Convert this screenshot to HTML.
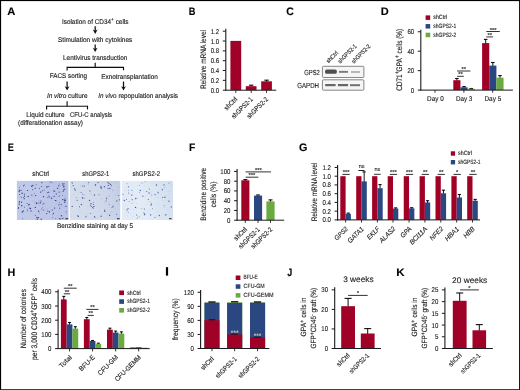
<!DOCTYPE html>
<html><head><meta charset="utf-8"><title>figure</title>
<style>
html,body{margin:0;padding:0;background:#fff;}
body{width:520px;height:390px;overflow:hidden;font-family:"Liberation Sans",sans-serif;}
svg{display:block;font-family:"Liberation Sans",sans-serif;opacity:0.999;will-change:transform;text-rendering:geometricPrecision;}
text{stroke:#1a1a1a;stroke-width:0.12px;}
</style></head><body>
<svg width="520" height="390" viewBox="0 0 520 390">
<rect x="0" y="0" width="520" height="390" fill="#ffffff"/>
<defs><filter id="soft" filterUnits="userSpaceOnUse" x="0" y="0" width="520" height="390"><feGaussianBlur stdDeviation="0.3"/></filter></defs>
<g filter="url(#soft)">
<text x="7.30" y="15.10" font-size="10.9" fill="#000" font-weight="bold" font-style="normal" text-anchor="start" textLength="8.10" lengthAdjust="spacingAndGlyphs" stroke="#000" stroke-width="0.45">A</text>
<text x="188.70" y="15.10" font-size="10.9" fill="#000" font-weight="bold" font-style="normal" text-anchor="start" textLength="6.70" lengthAdjust="spacingAndGlyphs" stroke="#000" stroke-width="0.45">B</text>
<text x="286.20" y="15.20" font-size="10.9" fill="#000" font-weight="bold" font-style="normal" text-anchor="start" textLength="7.60" lengthAdjust="spacingAndGlyphs" stroke="#000" stroke-width="0.45">C</text>
<text x="380.80" y="15.10" font-size="10.9" fill="#000" font-weight="bold" font-style="normal" text-anchor="start" textLength="8.00" lengthAdjust="spacingAndGlyphs" stroke="#000" stroke-width="0.45">D</text>
<text x="7.70" y="150.90" font-size="10.9" fill="#000" font-weight="bold" font-style="normal" text-anchor="start" textLength="6.10" lengthAdjust="spacingAndGlyphs" stroke="#000" stroke-width="0.45">E</text>
<text x="188.90" y="151.10" font-size="10.9" fill="#000" font-weight="bold" font-style="normal" text-anchor="start" textLength="6.30" lengthAdjust="spacingAndGlyphs" stroke="#000" stroke-width="0.45">F</text>
<text x="298.90" y="151.10" font-size="10.9" fill="#000" font-weight="bold" font-style="normal" text-anchor="start" textLength="8.40" lengthAdjust="spacingAndGlyphs" stroke="#000" stroke-width="0.45">G</text>
<text x="7.40" y="275.50" font-size="10.9" fill="#000" font-weight="bold" font-style="normal" text-anchor="start" textLength="7.80" lengthAdjust="spacingAndGlyphs" stroke="#000" stroke-width="0.45">H</text>
<rect x="165.90" y="267.20" width="2.20" height="8.40" fill="#000"/>
<text x="287.30" y="275.70" font-size="10.9" fill="#000" font-weight="bold" font-style="normal" text-anchor="start" textLength="5.00" lengthAdjust="spacingAndGlyphs" stroke="#000" stroke-width="0.45">J</text>
<text x="396.20" y="275.80" font-size="10.9" fill="#000" font-weight="bold" font-style="normal" text-anchor="start" textLength="8.40" lengthAdjust="spacingAndGlyphs" stroke="#000" stroke-width="0.45">K</text>
<text x="61.90" y="23.60" font-size="6.8" fill="#1a1a1a" font-weight="normal" font-style="normal" text-anchor="start" textLength="66.60" lengthAdjust="spacingAndGlyphs">Isolation of CD34<tspan dy="-2.6" font-size="5">+</tspan><tspan dy="2.6"> cells</tspan></text>
<line x1="95.20" y1="26.30" x2="95.20" y2="31.50" stroke="#111" stroke-width="1.25" stroke-linecap="butt"/>
<path d="M92.80,29.60 L95.20,33.90 L97.60,29.60 L95.20,30.70 Z" fill="#111"/>
<text x="58.00" y="41.70" font-size="6.8" fill="#1a1a1a" font-weight="normal" font-style="normal" text-anchor="start" textLength="74.30" lengthAdjust="spacingAndGlyphs">Stimulation with cytokines</text>
<line x1="95.20" y1="44.60" x2="95.20" y2="49.70" stroke="#111" stroke-width="1.25" stroke-linecap="butt"/>
<path d="M92.80,47.80 L95.20,52.10 L97.60,47.80 L95.20,48.90 Z" fill="#111"/>
<text x="63.00" y="59.50" font-size="6.8" fill="#1a1a1a" font-weight="normal" font-style="normal" text-anchor="start" textLength="64.30" lengthAdjust="spacingAndGlyphs">Lentivirus transduction</text>
<line x1="95.20" y1="62.70" x2="95.20" y2="67.30" stroke="#111" stroke-width="1.15" stroke-linecap="butt"/>
<line x1="67.10" y1="67.30" x2="123.50" y2="67.30" stroke="#111" stroke-width="1.15" stroke-linecap="butt"/>
<line x1="67.10" y1="66.85" x2="67.10" y2="70.40" stroke="#111" stroke-width="1.15" stroke-linecap="butt"/>
<line x1="123.50" y1="66.85" x2="123.50" y2="70.20" stroke="#111" stroke-width="1.15" stroke-linecap="butt"/>
<text x="49.80" y="78.20" font-size="6.8" fill="#1a1a1a" font-weight="normal" font-style="normal" text-anchor="start" textLength="37.10" lengthAdjust="spacingAndGlyphs">FACS sorting</text>
<text x="101.20" y="78.70" font-size="6.8" fill="#1a1a1a" font-weight="normal" font-style="normal" text-anchor="start" textLength="56.70" lengthAdjust="spacingAndGlyphs">Exnotransplantation</text>
<line x1="67.10" y1="81.50" x2="67.10" y2="88.20" stroke="#111" stroke-width="1.25" stroke-linecap="butt"/>
<path d="M64.70,86.30 L67.10,90.60 L69.50,86.30 L67.10,87.40 Z" fill="#111"/>
<line x1="123.50" y1="81.50" x2="123.50" y2="88.20" stroke="#111" stroke-width="1.25" stroke-linecap="butt"/>
<path d="M121.10,86.30 L123.50,90.60 L125.90,86.30 L123.50,87.40 Z" fill="#111"/>
<text x="46.90" y="98.00" font-size="6.8" fill="#1a1a1a" font-weight="normal" font-style="normal" text-anchor="start" textLength="40.60" lengthAdjust="spacingAndGlyphs"><tspan font-style="italic">In vitro</tspan> culture</text>
<text x="98.30" y="98.00" font-size="6.8" fill="#1a1a1a" font-weight="normal" font-style="normal" text-anchor="start" textLength="79.70" lengthAdjust="spacingAndGlyphs"><tspan font-style="italic">In vivo</tspan> repopulation analysis</text>
<line x1="67.10" y1="101.20" x2="67.10" y2="106.20" stroke="#111" stroke-width="1.15" stroke-linecap="butt"/>
<line x1="46.60" y1="106.20" x2="87.50" y2="106.20" stroke="#111" stroke-width="1.15" stroke-linecap="butt"/>
<line x1="46.60" y1="105.75" x2="46.60" y2="109.40" stroke="#111" stroke-width="1.15" stroke-linecap="butt"/>
<line x1="87.50" y1="105.75" x2="87.50" y2="109.40" stroke="#111" stroke-width="1.15" stroke-linecap="butt"/>
<text x="26.30" y="116.80" font-size="6.8" fill="#1a1a1a" font-weight="normal" font-style="normal" text-anchor="start" textLength="38.30" lengthAdjust="spacingAndGlyphs">Liquid culture</text>
<text x="70.00" y="116.80" font-size="6.8" fill="#1a1a1a" font-weight="normal" font-style="normal" text-anchor="start" textLength="42.00" lengthAdjust="spacingAndGlyphs">CFU-C analysis</text>
<text x="18.00" y="124.80" font-size="6.8" fill="#1a1a1a" font-weight="normal" font-style="normal" text-anchor="start" textLength="65.00" lengthAdjust="spacingAndGlyphs">(differationation assay)</text>
<rect x="230.40" y="40.90" width="10.80" height="49.30" fill="#A00028"/>
<line x1="251.15" y1="85.00" x2="251.15" y2="86.70" stroke="#111" stroke-width="1.0" stroke-linecap="butt"/>
<line x1="248.90" y1="85.20" x2="253.40" y2="85.20" stroke="#111" stroke-width="1.1" stroke-linecap="butt"/>
<rect x="245.80" y="86.20" width="10.70" height="4.00" fill="#A00028"/>
<line x1="266.55" y1="80.00" x2="266.55" y2="81.80" stroke="#111" stroke-width="1.0" stroke-linecap="butt"/>
<line x1="264.30" y1="80.20" x2="268.80" y2="80.20" stroke="#111" stroke-width="1.1" stroke-linecap="butt"/>
<rect x="261.20" y="81.30" width="10.70" height="8.90" fill="#A00028"/>
<line x1="225.30" y1="90.20" x2="276.20" y2="90.20" stroke="#1a1a1a" stroke-width="1" stroke-linecap="butt"/>
<line x1="225.80" y1="28.80" x2="225.80" y2="90.70" stroke="#1a1a1a" stroke-width="1.1" stroke-linecap="butt"/>
<line x1="222.80" y1="31.20" x2="225.80" y2="31.20" stroke="#1a1a1a" stroke-width="1.0" stroke-linecap="butt"/>
<text x="210.72" y="33.70" font-size="7.0" fill="#1a1a1a" font-weight="normal" font-style="normal" text-anchor="start" textLength="8.48" lengthAdjust="spacingAndGlyphs">1.2</text>
<line x1="222.80" y1="41.00" x2="225.80" y2="41.00" stroke="#1a1a1a" stroke-width="1.0" stroke-linecap="butt"/>
<text x="210.72" y="43.50" font-size="7.0" fill="#1a1a1a" font-weight="normal" font-style="normal" text-anchor="start" textLength="8.48" lengthAdjust="spacingAndGlyphs">1.0</text>
<line x1="222.80" y1="50.85" x2="225.80" y2="50.85" stroke="#1a1a1a" stroke-width="1.0" stroke-linecap="butt"/>
<text x="210.72" y="53.35" font-size="7.0" fill="#1a1a1a" font-weight="normal" font-style="normal" text-anchor="start" textLength="8.48" lengthAdjust="spacingAndGlyphs">0.8</text>
<line x1="222.80" y1="60.70" x2="225.80" y2="60.70" stroke="#1a1a1a" stroke-width="1.0" stroke-linecap="butt"/>
<text x="210.72" y="63.20" font-size="7.0" fill="#1a1a1a" font-weight="normal" font-style="normal" text-anchor="start" textLength="8.48" lengthAdjust="spacingAndGlyphs">0.6</text>
<line x1="222.80" y1="70.50" x2="225.80" y2="70.50" stroke="#1a1a1a" stroke-width="1.0" stroke-linecap="butt"/>
<text x="210.72" y="73.00" font-size="7.0" fill="#1a1a1a" font-weight="normal" font-style="normal" text-anchor="start" textLength="8.48" lengthAdjust="spacingAndGlyphs">0.4</text>
<line x1="222.80" y1="80.35" x2="225.80" y2="80.35" stroke="#1a1a1a" stroke-width="1.0" stroke-linecap="butt"/>
<text x="210.72" y="82.85" font-size="7.0" fill="#1a1a1a" font-weight="normal" font-style="normal" text-anchor="start" textLength="8.48" lengthAdjust="spacingAndGlyphs">0.2</text>
<line x1="222.80" y1="90.20" x2="225.80" y2="90.20" stroke="#1a1a1a" stroke-width="1.0" stroke-linecap="butt"/>
<text x="210.72" y="92.70" font-size="7.0" fill="#1a1a1a" font-weight="normal" font-style="normal" text-anchor="start" textLength="8.48" lengthAdjust="spacingAndGlyphs">0.0</text>
<line x1="235.80" y1="90.20" x2="235.80" y2="92.90" stroke="#1a1a1a" stroke-width="0.9" stroke-linecap="butt"/>
<line x1="251.20" y1="90.20" x2="251.20" y2="92.90" stroke="#1a1a1a" stroke-width="0.9" stroke-linecap="butt"/>
<line x1="266.50" y1="90.20" x2="266.50" y2="92.90" stroke="#1a1a1a" stroke-width="0.9" stroke-linecap="butt"/>
<text transform="translate(205.60,59.50) rotate(-90)" x="-29.50" y="0" font-size="8.0" fill="#1a1a1a" stroke-width="0.04" textLength="59.00" lengthAdjust="spacingAndGlyphs">Relative mRNA level</text>
<text transform="translate(237.80,99.70) rotate(-45)" x="-15.50" y="0" font-size="6.8" fill="#1a1a1a" font-style="normal" textLength="15.50" lengthAdjust="spacingAndGlyphs">shCtrl</text>
<text transform="translate(253.30,99.70) rotate(-45)" x="-27.30" y="0" font-size="6.8" fill="#1a1a1a" font-style="normal" textLength="27.30" lengthAdjust="spacingAndGlyphs">shGPS2-1</text>
<text transform="translate(268.70,99.70) rotate(-45)" x="-27.30" y="0" font-size="6.8" fill="#1a1a1a" font-style="normal" textLength="27.30" lengthAdjust="spacingAndGlyphs">shGPS2-2</text>
<rect x="322.4" y="66.3" width="41.5" height="11.2" rx="1" fill="#f5f5f5" stroke="#606060" stroke-width="0.75"/>
<rect x="322.4" y="79.8" width="41.5" height="10.4" rx="1" fill="#f5f5f5" stroke="#606060" stroke-width="0.75"/>
<defs><filter id="bl" x="-20%" y="-50%" width="140%" height="200%"><feGaussianBlur stdDeviation="0.55"/></filter></defs>
<g filter="url(#bl)">
<rect x="325.0" y="69.6" width="11.9" height="4.2" rx="1.9" fill="#505050"/>
<rect x="339.00" y="70.90" width="9.00" height="1.90" fill="#7a7a7a"/>
<rect x="351.00" y="71.20" width="9.00" height="1.60" fill="#a8a8a8"/>
<rect x="325.20" y="84.00" width="10.40" height="2.20" fill="#666"/>
<rect x="337.90" y="84.00" width="10.20" height="2.20" fill="#666"/>
<rect x="350.00" y="84.20" width="10.00" height="2.00" fill="#707070"/>
</g>
<text x="304.20" y="75.10" font-size="7.3" fill="#1a1a1a" font-weight="normal" font-style="normal" text-anchor="start" textLength="15.60" lengthAdjust="spacingAndGlyphs">GPS2</text>
<text x="297.30" y="87.70" font-size="7.3" fill="#1a1a1a" font-weight="normal" font-style="normal" text-anchor="start" textLength="21.70" lengthAdjust="spacingAndGlyphs">GAPDH</text>
<text transform="translate(338.60,53.40) rotate(-45)" x="-14.30" y="0" font-size="6.0" fill="#1a1a1a" font-style="normal" textLength="14.30" lengthAdjust="spacingAndGlyphs">shCtrl</text>
<text transform="translate(357.00,46.80) rotate(-45)" x="-23.80" y="0" font-size="6.0" fill="#1a1a1a" font-style="normal" textLength="23.80" lengthAdjust="spacingAndGlyphs">shGPS2-1</text>
<text transform="translate(370.80,46.80) rotate(-45)" x="-23.80" y="0" font-size="6.0" fill="#1a1a1a" font-style="normal" textLength="23.80" lengthAdjust="spacingAndGlyphs">shGPS2-2</text>
<line x1="456.88" y1="78.30" x2="456.88" y2="80.70" stroke="#111" stroke-width="1.0" stroke-linecap="butt"/>
<line x1="455.07" y1="78.50" x2="458.68" y2="78.50" stroke="#111" stroke-width="1.1" stroke-linecap="butt"/>
<rect x="453.30" y="80.20" width="7.15" height="9.90" fill="#A00028"/>
<line x1="464.02" y1="86.40" x2="464.02" y2="87.80" stroke="#111" stroke-width="1.0" stroke-linecap="butt"/>
<line x1="462.22" y1="86.60" x2="465.82" y2="86.60" stroke="#111" stroke-width="1.1" stroke-linecap="butt"/>
<rect x="460.45" y="87.30" width="7.15" height="2.80" fill="#2B4782"/>
<line x1="471.18" y1="88.30" x2="471.18" y2="89.30" stroke="#111" stroke-width="1.0" stroke-linecap="butt"/>
<line x1="469.38" y1="88.50" x2="472.98" y2="88.50" stroke="#111" stroke-width="1.1" stroke-linecap="butt"/>
<rect x="467.60" y="88.80" width="7.15" height="1.30" fill="#6BAA3F"/>
<line x1="485.68" y1="39.20" x2="485.68" y2="43.60" stroke="#111" stroke-width="1.0" stroke-linecap="butt"/>
<line x1="483.88" y1="39.40" x2="487.48" y2="39.40" stroke="#111" stroke-width="1.1" stroke-linecap="butt"/>
<rect x="482.10" y="43.10" width="7.15" height="47.00" fill="#A00028"/>
<line x1="492.83" y1="62.30" x2="492.83" y2="66.10" stroke="#111" stroke-width="1.0" stroke-linecap="butt"/>
<line x1="491.03" y1="62.50" x2="494.63" y2="62.50" stroke="#111" stroke-width="1.1" stroke-linecap="butt"/>
<rect x="489.25" y="65.60" width="7.15" height="24.50" fill="#2B4782"/>
<line x1="499.98" y1="75.40" x2="499.98" y2="78.20" stroke="#111" stroke-width="1.0" stroke-linecap="butt"/>
<line x1="498.18" y1="75.60" x2="501.78" y2="75.60" stroke="#111" stroke-width="1.1" stroke-linecap="butt"/>
<rect x="496.40" y="77.70" width="7.15" height="12.40" fill="#6BAA3F"/>
<line x1="420.30" y1="90.10" x2="512.90" y2="90.10" stroke="#1a1a1a" stroke-width="1" stroke-linecap="butt"/>
<line x1="420.80" y1="29.80" x2="420.80" y2="90.60" stroke="#1a1a1a" stroke-width="1.1" stroke-linecap="butt"/>
<line x1="417.80" y1="31.75" x2="420.80" y2="31.75" stroke="#1a1a1a" stroke-width="1.0" stroke-linecap="butt"/>
<text x="407.42" y="34.25" font-size="7.0" fill="#1a1a1a" font-weight="normal" font-style="normal" text-anchor="start" textLength="6.78" lengthAdjust="spacingAndGlyphs">60</text>
<line x1="417.80" y1="51.20" x2="420.80" y2="51.20" stroke="#1a1a1a" stroke-width="1.0" stroke-linecap="butt"/>
<text x="407.42" y="53.70" font-size="7.0" fill="#1a1a1a" font-weight="normal" font-style="normal" text-anchor="start" textLength="6.78" lengthAdjust="spacingAndGlyphs">40</text>
<line x1="417.80" y1="70.65" x2="420.80" y2="70.65" stroke="#1a1a1a" stroke-width="1.0" stroke-linecap="butt"/>
<text x="407.42" y="73.15" font-size="7.0" fill="#1a1a1a" font-weight="normal" font-style="normal" text-anchor="start" textLength="6.78" lengthAdjust="spacingAndGlyphs">20</text>
<line x1="417.80" y1="90.10" x2="420.80" y2="90.10" stroke="#1a1a1a" stroke-width="1.0" stroke-linecap="butt"/>
<text x="410.81" y="92.60" font-size="7.0" fill="#1a1a1a" font-weight="normal" font-style="normal" text-anchor="start" textLength="3.39" lengthAdjust="spacingAndGlyphs">0</text>
<line x1="435.00" y1="90.10" x2="435.00" y2="92.70" stroke="#1a1a1a" stroke-width="0.9" stroke-linecap="butt"/>
<line x1="463.90" y1="90.10" x2="463.90" y2="92.70" stroke="#1a1a1a" stroke-width="0.9" stroke-linecap="butt"/>
<line x1="492.70" y1="90.10" x2="492.70" y2="92.70" stroke="#1a1a1a" stroke-width="0.9" stroke-linecap="butt"/>
<text x="427.10" y="101.40" font-size="7.0" fill="#1a1a1a" font-weight="normal" font-style="normal" text-anchor="start" textLength="16.70" lengthAdjust="spacingAndGlyphs">Day 0</text>
<text x="455.90" y="101.40" font-size="7.0" fill="#1a1a1a" font-weight="normal" font-style="normal" text-anchor="start" textLength="16.50" lengthAdjust="spacingAndGlyphs">Day 3</text>
<text x="484.50" y="101.40" font-size="7.0" fill="#1a1a1a" font-weight="normal" font-style="normal" text-anchor="start" textLength="16.70" lengthAdjust="spacingAndGlyphs">Day 5</text>
<text transform="translate(402.00,59.80) rotate(-90)" x="-31.00" y="0" font-size="8.0" fill="#1a1a1a" stroke-width="0.04" textLength="62.00" lengthAdjust="spacingAndGlyphs">CD71<tspan dy="-2.8" font-size="6.2">+</tspan><tspan dy="2.8">GPA</tspan><tspan dy="-2.8" font-size="6.2">+</tspan><tspan dy="2.8"> cells (%)</tspan></text>
<rect x="425.60" y="15.40" width="4.60" height="4.50" fill="#A00028"/>
<text x="433.30" y="19.30" font-size="6.2" fill="#1a1a1a" font-weight="normal" font-style="normal" text-anchor="start" textLength="13.80" lengthAdjust="spacingAndGlyphs">shCtrl</text>
<rect x="425.60" y="24.05" width="4.60" height="4.50" fill="#2B4782"/>
<text x="433.30" y="27.95" font-size="6.2" fill="#1a1a1a" font-weight="normal" font-style="normal" text-anchor="start" textLength="22.90" lengthAdjust="spacingAndGlyphs">shGPS2-1</text>
<rect x="425.60" y="32.70" width="4.60" height="4.50" fill="#6BAA3F"/>
<text x="433.30" y="36.60" font-size="6.2" fill="#1a1a1a" font-weight="normal" font-style="normal" text-anchor="start" textLength="22.90" lengthAdjust="spacingAndGlyphs">shGPS2-2</text>
<line x1="457.10" y1="76.30" x2="463.80" y2="76.30" stroke="#333" stroke-width="1.0" stroke-linecap="butt"/>
<text x="460.45" y="76.30" font-size="5.8" fill="#3a3a3a" font-weight="normal" font-style="normal" text-anchor="middle" stroke="none">**</text>
<line x1="457.10" y1="71.00" x2="470.40" y2="71.00" stroke="#333" stroke-width="1.0" stroke-linecap="butt"/>
<text x="463.75" y="71.00" font-size="5.8" fill="#3a3a3a" font-weight="normal" font-style="normal" text-anchor="middle" stroke="none">**</text>
<line x1="486.30" y1="36.90" x2="493.10" y2="36.90" stroke="#333" stroke-width="1.0" stroke-linecap="butt"/>
<text x="489.70" y="36.90" font-size="5.8" fill="#3a3a3a" font-weight="normal" font-style="normal" text-anchor="middle" stroke="none">**</text>
<line x1="486.30" y1="31.50" x2="499.80" y2="31.50" stroke="#333" stroke-width="1.0" stroke-linecap="butt"/>
<text x="493.05" y="31.50" font-size="5.8" fill="#3a3a3a" font-weight="normal" font-style="normal" text-anchor="middle" stroke="none">***</text>
<defs><filter id="bl2"><feGaussianBlur stdDeviation="0.22"/></filter></defs>
<defs><linearGradient id="g11" x1="0" y1="0.6" x2="1" y2="0.4"><stop offset="0" stop-color="#c2cae9"/><stop offset="0.5" stop-color="#bec7e8"/><stop offset="1" stop-color="#b9c3e6"/></linearGradient></defs>
<rect x="16.90" y="180.90" width="51.60" height="39.10" fill="url(#g11)"/>
<g fill="#37428c" fill-opacity="1.0" filter="url(#bl2)">
<circle cx="40.3" cy="202.7" r="0.70"/>
<circle cx="43.1" cy="203.7" r="0.48"/>
<circle cx="49.2" cy="211.4" r="0.45"/>
<ellipse cx="22.2" cy="212.1" rx="0.94" ry="0.50" transform="rotate(101 22.2 212.1)"/>
<ellipse cx="65.9" cy="206.2" rx="0.91" ry="0.48" transform="rotate(3 65.9 206.2)"/>
<circle cx="59.3" cy="184.1" r="0.43"/>
<circle cx="47.7" cy="210.9" r="0.52"/>
<ellipse cx="27.5" cy="190.5" rx="0.76" ry="0.41" transform="rotate(21 27.5 190.5)"/>
<circle cx="40.6" cy="192.1" r="0.72"/>
<ellipse cx="59.7" cy="208.2" rx="0.77" ry="0.41" transform="rotate(73 59.7 208.2)"/>
<ellipse cx="19.2" cy="202.8" rx="0.68" ry="0.36" transform="rotate(74 19.2 202.8)"/>
<ellipse cx="37.0" cy="217.6" rx="1.01" ry="0.54" transform="rotate(53 37.0 217.6)"/>
<circle cx="64.1" cy="183.7" r="0.53"/>
<circle cx="38.7" cy="202.9" r="0.48"/>
<circle cx="34.5" cy="193.4" r="0.42"/>
<ellipse cx="63.8" cy="186.7" rx="0.95" ry="0.51" transform="rotate(119 63.8 186.7)"/>
<circle cx="57.6" cy="188.4" r="0.59"/>
<circle cx="27.2" cy="209.1" r="0.46"/>
<circle cx="23.5" cy="197.5" r="0.48"/>
<circle cx="66.2" cy="211.8" r="0.51"/>
<circle cx="28.2" cy="196.5" r="0.68"/>
<circle cx="22.7" cy="218.8" r="0.48"/>
<ellipse cx="56.3" cy="194.0" rx="0.76" ry="0.41" transform="rotate(23 56.3 194.0)"/>
<circle cx="28.1" cy="205.6" r="0.42"/>
<circle cx="48.8" cy="186.5" r="0.60"/>
<circle cx="24.5" cy="196.2" r="0.61"/>
<ellipse cx="29.1" cy="204.6" rx="0.96" ry="0.51" transform="rotate(161 29.1 204.6)"/>
<circle cx="64.7" cy="189.1" r="0.71"/>
<ellipse cx="47.9" cy="197.5" rx="0.68" ry="0.36" transform="rotate(65 47.9 197.5)"/>
<circle cx="29.6" cy="208.1" r="0.50"/>
<circle cx="47.5" cy="192.7" r="0.47"/>
<circle cx="21.1" cy="190.3" r="0.59"/>
<ellipse cx="48.4" cy="192.2" rx="1.04" ry="0.56" transform="rotate(4 48.4 192.2)"/>
<ellipse cx="21.2" cy="197.1" rx="0.74" ry="0.40" transform="rotate(72 21.2 197.1)"/>
<circle cx="36.1" cy="203.2" r="0.46"/>
<circle cx="62.2" cy="218.5" r="0.62"/>
<ellipse cx="46.9" cy="187.0" rx="0.65" ry="0.34" transform="rotate(91 46.9 187.0)"/>
<circle cx="52.7" cy="217.8" r="0.43"/>
<circle cx="41.8" cy="209.1" r="0.52"/>
<circle cx="21.5" cy="202.2" r="0.64"/>
<circle cx="54.6" cy="208.1" r="0.66"/>
<circle cx="35.3" cy="207.4" r="0.69"/>
<circle cx="38.6" cy="211.3" r="0.68"/>
<circle cx="48.9" cy="196.0" r="0.59"/>
<circle cx="21.7" cy="205.7" r="0.72"/>
<circle cx="54.1" cy="196.3" r="0.64"/>
<circle cx="39.7" cy="213.1" r="0.45"/>
<ellipse cx="19.2" cy="204.2" rx="0.85" ry="0.45" transform="rotate(178 19.2 204.2)"/>
<circle cx="23.3" cy="210.9" r="0.62"/>
<circle cx="62.5" cy="195.5" r="0.46"/>
<circle cx="43.6" cy="210.0" r="0.52"/>
<circle cx="42.6" cy="190.8" r="0.54"/>
<ellipse cx="49.4" cy="211.8" rx="0.97" ry="0.52" transform="rotate(54 49.4 211.8)"/>
<ellipse cx="36.9" cy="203.6" rx="0.77" ry="0.41" transform="rotate(127 36.9 203.6)"/>
<ellipse cx="35.2" cy="215.3" rx="0.65" ry="0.35" transform="rotate(70 35.2 215.3)"/>
<circle cx="58.8" cy="185.9" r="0.56"/>
<circle cx="59.2" cy="196.0" r="0.58"/>
<circle cx="53.5" cy="213.3" r="0.61"/>
<circle cx="59.1" cy="192.1" r="0.60"/>
<circle cx="31.8" cy="195.0" r="0.61"/>
<circle cx="49.7" cy="196.9" r="0.48"/>
<circle cx="31.0" cy="210.9" r="0.66"/>
<circle cx="23.5" cy="185.8" r="0.58"/>
<circle cx="36.1" cy="184.6" r="0.48"/>
<circle cx="30.5" cy="208.5" r="0.65"/>
<circle cx="19.5" cy="190.2" r="0.65"/>
<ellipse cx="65.0" cy="200.5" rx="1.08" ry="0.58" transform="rotate(179 65.0 200.5)"/>
<circle cx="63.0" cy="185.0" r="0.70"/>
<circle cx="24.2" cy="198.7" r="0.61"/>
<circle cx="36.5" cy="203.0" r="0.68"/>
<ellipse cx="64.9" cy="199.1" rx="0.92" ry="0.49" transform="rotate(164 64.9 199.1)"/>
<circle cx="63.9" cy="186.3" r="0.49"/>
<circle cx="22.1" cy="193.3" r="0.71"/>
<circle cx="30.8" cy="208.6" r="0.42"/>
<circle cx="19.6" cy="194.5" r="0.55"/>
<circle cx="63.7" cy="189.9" r="0.68"/>
<circle cx="19.5" cy="201.7" r="0.63"/>
<circle cx="41.2" cy="219.2" r="0.69"/>
<circle cx="51.6" cy="198.2" r="0.68"/>
<circle cx="52.2" cy="210.1" r="0.55"/>
<circle cx="59.3" cy="202.8" r="0.47"/>
<circle cx="63.1" cy="191.3" r="0.62"/>
<ellipse cx="61.2" cy="204.6" rx="0.77" ry="0.41" transform="rotate(139 61.2 204.6)"/>
<circle cx="43.9" cy="203.2" r="0.48"/>
<circle cx="42.9" cy="204.4" r="0.43"/>
<circle cx="43.5" cy="196.7" r="0.66"/>
<circle cx="42.3" cy="207.6" r="0.44"/>
<circle cx="38.4" cy="217.6" r="0.70"/>
<circle cx="41.4" cy="186.5" r="0.55"/>
<ellipse cx="62.7" cy="199.6" rx="0.77" ry="0.41" transform="rotate(158 62.7 199.6)"/>
<circle cx="19.2" cy="191.5" r="0.63"/>
<circle cx="19.5" cy="187.5" r="0.42"/>
<circle cx="53.9" cy="190.9" r="0.57"/>
<circle cx="46.8" cy="213.6" r="0.61"/>
<circle cx="52.8" cy="214.7" r="0.43"/>
<circle cx="59.0" cy="204.8" r="0.58"/>
<circle cx="44.4" cy="189.9" r="0.48"/>
<circle cx="47.0" cy="186.8" r="0.69"/>
<circle cx="35.1" cy="188.5" r="0.60"/>
<ellipse cx="27.4" cy="210.9" rx="0.72" ry="0.38" transform="rotate(61 27.4 210.9)"/>
<circle cx="24.3" cy="185.0" r="0.54"/>
<ellipse cx="64.8" cy="202.1" rx="0.95" ry="0.51" transform="rotate(160 64.8 202.1)"/>
<circle cx="52.0" cy="182.4" r="0.48"/>
<circle cx="63.3" cy="218.0" r="0.45"/>
<ellipse cx="55.6" cy="200.6" rx="0.94" ry="0.50" transform="rotate(18 55.6 200.6)"/>
<circle cx="41.8" cy="182.6" r="0.65"/>
<ellipse cx="63.0" cy="199.7" rx="0.72" ry="0.38" transform="rotate(44 63.0 199.7)"/>
<ellipse cx="59.7" cy="218.8" rx="1.05" ry="0.56" transform="rotate(15 59.7 218.8)"/>
<ellipse cx="24.4" cy="207.2" rx="0.66" ry="0.35" transform="rotate(100 24.4 207.2)"/>
<circle cx="41.0" cy="201.0" r="0.55"/>
<ellipse cx="18.4" cy="208.0" rx="1.01" ry="0.54" transform="rotate(116 18.4 208.0)"/>
<circle cx="35.7" cy="195.6" r="0.70"/>
<ellipse cx="22.4" cy="211.4" rx="0.78" ry="0.41" transform="rotate(180 22.4 211.4)"/>
<circle cx="61.5" cy="215.8" r="0.70"/>
<circle cx="27.2" cy="203.6" r="0.52"/>
<ellipse cx="31.7" cy="186.1" rx="0.96" ry="0.51" transform="rotate(103 31.7 186.1)"/>
<circle cx="24.4" cy="194.1" r="0.58"/>
<ellipse cx="39.3" cy="188.5" rx="0.72" ry="0.39" transform="rotate(87 39.3 188.5)"/>
<circle cx="32.8" cy="185.5" r="0.69"/>
<circle cx="62.8" cy="183.6" r="0.50"/>
<ellipse cx="32.6" cy="189.8" rx="0.81" ry="0.43" transform="rotate(19 32.6 189.8)"/>
<circle cx="37.2" cy="219.2" r="0.61"/>
<circle cx="55.8" cy="218.5" r="0.43"/>
<ellipse cx="54.6" cy="191.3" rx="0.81" ry="0.43" transform="rotate(50 54.6 191.3)"/>
<circle cx="50.1" cy="182.1" r="0.50"/>
</g>
<g fill="#37428c" fill-opacity="0.28">
<circle cx="34.7" cy="202.0" r="0.4"/>
<circle cx="38.5" cy="201.2" r="0.4"/>
<circle cx="60.0" cy="185.4" r="0.4"/>
<circle cx="39.9" cy="205.9" r="0.4"/>
<circle cx="45.2" cy="206.8" r="0.4"/>
<circle cx="65.5" cy="196.2" r="0.4"/>
<circle cx="64.6" cy="196.2" r="0.4"/>
<circle cx="66.2" cy="213.8" r="0.4"/>
<circle cx="44.8" cy="204.1" r="0.4"/>
<circle cx="39.2" cy="200.2" r="0.4"/>
<circle cx="31.9" cy="196.6" r="0.4"/>
<circle cx="33.3" cy="201.6" r="0.4"/>
<circle cx="41.9" cy="191.8" r="0.4"/>
<circle cx="64.2" cy="206.6" r="0.4"/>
<circle cx="55.1" cy="182.7" r="0.4"/>
<circle cx="56.3" cy="203.7" r="0.4"/>
<circle cx="49.3" cy="197.0" r="0.4"/>
<circle cx="51.9" cy="183.7" r="0.4"/>
<circle cx="33.5" cy="196.6" r="0.4"/>
<circle cx="46.8" cy="208.8" r="0.4"/>
<circle cx="33.7" cy="211.6" r="0.4"/>
<circle cx="28.9" cy="208.7" r="0.4"/>
<circle cx="30.2" cy="210.0" r="0.4"/>
<circle cx="20.0" cy="185.4" r="0.4"/>
<circle cx="58.2" cy="215.8" r="0.4"/>
<circle cx="24.9" cy="217.7" r="0.4"/>
<circle cx="30.0" cy="208.2" r="0.4"/>
<circle cx="20.2" cy="197.3" r="0.4"/>
<circle cx="23.6" cy="214.0" r="0.4"/>
<circle cx="35.5" cy="187.5" r="0.4"/>
<circle cx="35.9" cy="186.9" r="0.4"/>
<circle cx="38.5" cy="204.2" r="0.4"/>
<circle cx="49.7" cy="207.3" r="0.4"/>
<circle cx="35.9" cy="209.6" r="0.4"/>
<circle cx="58.5" cy="186.8" r="0.4"/>
<circle cx="32.2" cy="186.5" r="0.4"/>
<circle cx="41.8" cy="200.6" r="0.4"/>
<circle cx="33.1" cy="200.7" r="0.4"/>
<circle cx="60.0" cy="192.0" r="0.4"/>
<circle cx="48.2" cy="208.9" r="0.4"/>
</g>
<defs><linearGradient id="g12" x1="0" y1="0.6" x2="1" y2="0.4"><stop offset="0" stop-color="#d6deec"/><stop offset="0.6" stop-color="#d0d9ea"/><stop offset="1" stop-color="#c4cee6"/></linearGradient></defs>
<rect x="69.80" y="180.90" width="50.50" height="39.10" fill="url(#g12)"/>
<g fill="#3f5299" fill-opacity="0.95" filter="url(#bl2)">
<ellipse cx="93.8" cy="206.4" rx="0.93" ry="0.50" transform="rotate(2 93.8 206.4)"/>
<circle cx="119.3" cy="199.8" r="0.61"/>
<circle cx="112.9" cy="190.2" r="0.42"/>
<ellipse cx="118.4" cy="195.5" rx="0.78" ry="0.42" transform="rotate(147 118.4 195.5)"/>
<circle cx="110.6" cy="184.5" r="0.63"/>
<ellipse cx="90.4" cy="213.3" rx="0.64" ry="0.34" transform="rotate(169 90.4 213.3)"/>
<circle cx="95.5" cy="185.1" r="0.72"/>
<circle cx="76.1" cy="197.6" r="0.46"/>
<ellipse cx="101.0" cy="187.8" rx="0.94" ry="0.50" transform="rotate(43 101.0 187.8)"/>
<circle cx="95.4" cy="184.8" r="0.60"/>
<circle cx="93.6" cy="204.5" r="0.58"/>
<circle cx="74.6" cy="188.9" r="0.66"/>
<circle cx="116.6" cy="214.2" r="0.54"/>
<circle cx="82.9" cy="194.3" r="0.53"/>
<circle cx="108.0" cy="188.4" r="0.53"/>
<ellipse cx="72.2" cy="182.7" rx="0.93" ry="0.50" transform="rotate(52 72.2 182.7)"/>
<ellipse cx="108.3" cy="185.5" rx="0.88" ry="0.47" transform="rotate(178 108.3 185.5)"/>
<circle cx="84.0" cy="198.0" r="0.57"/>
<circle cx="106.1" cy="201.0" r="0.53"/>
<ellipse cx="92.9" cy="207.8" rx="1.01" ry="0.54" transform="rotate(42 92.9 207.8)"/>
<circle cx="93.3" cy="202.3" r="0.47"/>
<circle cx="81.4" cy="204.5" r="0.70"/>
<circle cx="109.8" cy="188.4" r="0.66"/>
<circle cx="82.7" cy="186.1" r="0.53"/>
<circle cx="78.2" cy="216.5" r="0.68"/>
<circle cx="84.3" cy="186.1" r="0.66"/>
<circle cx="94.5" cy="195.0" r="0.63"/>
<ellipse cx="106.7" cy="198.5" rx="0.91" ry="0.48" transform="rotate(84 106.7 198.5)"/>
<circle cx="116.8" cy="201.0" r="0.63"/>
<circle cx="81.1" cy="192.4" r="0.50"/>
<circle cx="104.5" cy="186.6" r="0.69"/>
<circle cx="82.4" cy="198.0" r="0.71"/>
<circle cx="101.1" cy="216.2" r="0.71"/>
<circle cx="91.0" cy="203.8" r="0.69"/>
<circle cx="99.0" cy="194.7" r="0.53"/>
<circle cx="98.1" cy="182.3" r="0.63"/>
<circle cx="109.6" cy="215.4" r="0.69"/>
<circle cx="109.2" cy="195.9" r="0.45"/>
<circle cx="85.9" cy="216.7" r="0.63"/>
<circle cx="101.0" cy="186.4" r="0.58"/>
<circle cx="89.9" cy="190.9" r="0.54"/>
<circle cx="104.1" cy="187.0" r="0.45"/>
<circle cx="104.6" cy="210.2" r="0.62"/>
<circle cx="88.5" cy="182.8" r="0.57"/>
<ellipse cx="79.4" cy="206.7" rx="0.78" ry="0.42" transform="rotate(83 79.4 206.7)"/>
<circle cx="75.3" cy="190.1" r="0.71"/>
<circle cx="112.1" cy="207.5" r="0.51"/>
<circle cx="77.8" cy="215.6" r="0.52"/>
<circle cx="89.6" cy="200.5" r="0.63"/>
<circle cx="109.0" cy="183.5" r="0.65"/>
<circle cx="104.8" cy="211.4" r="0.58"/>
<circle cx="73.2" cy="185.7" r="0.59"/>
<circle cx="107.9" cy="182.3" r="0.65"/>
<circle cx="101.5" cy="188.1" r="0.56"/>
<circle cx="77.2" cy="200.2" r="0.55"/>
<circle cx="90.6" cy="205.2" r="0.50"/>
<circle cx="109.2" cy="204.5" r="0.46"/>
<circle cx="72.2" cy="206.4" r="0.66"/>
<circle cx="91.3" cy="206.4" r="0.52"/>
<ellipse cx="94.7" cy="216.9" rx="1.00" ry="0.53" transform="rotate(52 94.7 216.9)"/>
<circle cx="111.5" cy="185.8" r="0.50"/>
<circle cx="113.1" cy="206.2" r="0.64"/>
</g>
<g fill="#3f5299" fill-opacity="0.28">
<circle cx="118.5" cy="216.0" r="0.4"/>
<circle cx="108.3" cy="213.9" r="0.4"/>
<circle cx="85.8" cy="214.4" r="0.4"/>
<circle cx="107.2" cy="213.9" r="0.4"/>
<circle cx="97.8" cy="183.3" r="0.4"/>
<circle cx="110.2" cy="189.0" r="0.4"/>
<circle cx="80.2" cy="212.0" r="0.4"/>
<circle cx="115.9" cy="218.5" r="0.4"/>
<circle cx="108.4" cy="202.2" r="0.4"/>
<circle cx="71.7" cy="215.9" r="0.4"/>
<circle cx="88.4" cy="200.4" r="0.4"/>
<circle cx="80.4" cy="185.4" r="0.4"/>
<circle cx="70.9" cy="186.4" r="0.4"/>
<circle cx="89.8" cy="199.9" r="0.4"/>
<circle cx="84.9" cy="195.0" r="0.4"/>
<circle cx="111.7" cy="213.7" r="0.4"/>
<circle cx="114.3" cy="182.8" r="0.4"/>
<circle cx="111.9" cy="182.5" r="0.4"/>
<circle cx="78.2" cy="210.1" r="0.4"/>
<circle cx="88.5" cy="185.6" r="0.4"/>
<circle cx="111.8" cy="211.6" r="0.4"/>
<circle cx="97.4" cy="217.8" r="0.4"/>
<circle cx="88.9" cy="184.4" r="0.4"/>
<circle cx="115.4" cy="194.8" r="0.4"/>
<circle cx="81.9" cy="197.6" r="0.4"/>
<circle cx="110.0" cy="213.1" r="0.4"/>
<circle cx="116.2" cy="182.9" r="0.4"/>
<circle cx="104.2" cy="202.9" r="0.4"/>
<circle cx="115.8" cy="208.9" r="0.4"/>
<circle cx="102.4" cy="213.4" r="0.4"/>
<circle cx="118.4" cy="203.9" r="0.4"/>
<circle cx="99.3" cy="211.8" r="0.4"/>
<circle cx="101.4" cy="199.0" r="0.4"/>
<circle cx="87.1" cy="206.1" r="0.4"/>
<circle cx="111.2" cy="211.7" r="0.4"/>
<circle cx="89.7" cy="206.3" r="0.4"/>
<circle cx="87.1" cy="183.9" r="0.4"/>
<circle cx="109.6" cy="207.4" r="0.4"/>
<circle cx="118.9" cy="187.0" r="0.4"/>
<circle cx="76.6" cy="199.9" r="0.4"/>
<circle cx="77.3" cy="192.1" r="0.4"/>
<circle cx="80.3" cy="186.3" r="0.4"/>
<circle cx="91.9" cy="194.5" r="0.4"/>
<circle cx="90.4" cy="193.6" r="0.4"/>
<circle cx="99.6" cy="210.4" r="0.4"/>
<circle cx="113.7" cy="212.1" r="0.4"/>
<circle cx="87.4" cy="215.1" r="0.4"/>
<circle cx="101.7" cy="204.9" r="0.4"/>
<circle cx="73.7" cy="194.5" r="0.4"/>
<circle cx="83.6" cy="202.9" r="0.4"/>
</g>
<defs><linearGradient id="g13" x1="0" y1="0.6" x2="1" y2="0.4"><stop offset="0" stop-color="#e1eaf5"/><stop offset="0.35" stop-color="#e3ecf6"/><stop offset="1" stop-color="#d3dfef"/></linearGradient></defs>
<rect x="121.90" y="180.90" width="51.10" height="39.10" fill="url(#g13)"/>
<g fill="#3f60a8" fill-opacity="0.95" filter="url(#bl2)">
<circle cx="135.5" cy="207.4" r="0.63"/>
<ellipse cx="131.9" cy="190.3" rx="0.70" ry="0.37" transform="rotate(47 131.9 190.3)"/>
<circle cx="129.1" cy="201.6" r="0.48"/>
<ellipse cx="144.1" cy="213.1" rx="0.90" ry="0.48" transform="rotate(70 144.1 213.1)"/>
<circle cx="164.0" cy="184.9" r="0.66"/>
<ellipse cx="135.7" cy="198.6" rx="0.83" ry="0.44" transform="rotate(65 135.7 198.6)"/>
<circle cx="140.3" cy="190.5" r="0.69"/>
<circle cx="171.3" cy="206.9" r="0.69"/>
<circle cx="155.1" cy="194.7" r="0.60"/>
<circle cx="135.7" cy="198.5" r="0.60"/>
<circle cx="144.5" cy="209.0" r="0.58"/>
<circle cx="131.6" cy="195.1" r="0.53"/>
<circle cx="136.6" cy="215.0" r="0.59"/>
<ellipse cx="150.7" cy="214.9" rx="0.95" ry="0.50" transform="rotate(110 150.7 214.9)"/>
<circle cx="154.9" cy="217.5" r="0.54"/>
<circle cx="168.9" cy="183.3" r="0.46"/>
<circle cx="164.2" cy="205.7" r="0.47"/>
<ellipse cx="165.7" cy="214.9" rx="0.99" ry="0.53" transform="rotate(161 165.7 214.9)"/>
<circle cx="141.3" cy="208.6" r="0.46"/>
<circle cx="152.6" cy="208.8" r="0.48"/>
<circle cx="151.5" cy="203.9" r="0.53"/>
<circle cx="139.6" cy="192.8" r="0.47"/>
<circle cx="128.3" cy="190.2" r="0.44"/>
<circle cx="150.2" cy="202.1" r="0.43"/>
<circle cx="139.7" cy="185.2" r="0.42"/>
<circle cx="128.7" cy="193.0" r="0.50"/>
<circle cx="126.5" cy="199.3" r="0.53"/>
<circle cx="123.0" cy="194.3" r="0.57"/>
<circle cx="148.3" cy="199.5" r="0.62"/>
<circle cx="124.3" cy="200.5" r="0.69"/>
<circle cx="135.5" cy="207.4" r="0.67"/>
<circle cx="151.8" cy="195.0" r="0.49"/>
<circle cx="132.8" cy="194.9" r="0.43"/>
<ellipse cx="127.0" cy="210.1" rx="0.90" ry="0.48" transform="rotate(78 127.0 210.1)"/>
<circle cx="132.1" cy="199.7" r="0.59"/>
<circle cx="137.0" cy="198.0" r="0.46"/>
<circle cx="128.2" cy="212.6" r="0.49"/>
<circle cx="141.9" cy="183.0" r="0.46"/>
<ellipse cx="144.6" cy="214.6" rx="1.08" ry="0.57" transform="rotate(136 144.6 214.6)"/>
<ellipse cx="137.3" cy="218.0" rx="0.65" ry="0.35" transform="rotate(139 137.3 218.0)"/>
<circle cx="159.3" cy="215.5" r="0.69"/>
<ellipse cx="156.4" cy="185.1" rx="1.05" ry="0.56" transform="rotate(67 156.4 185.1)"/>
<circle cx="162.4" cy="189.7" r="0.64"/>
<circle cx="169.0" cy="201.2" r="0.70"/>
<circle cx="151.1" cy="205.0" r="0.67"/>
<circle cx="128.4" cy="186.8" r="0.58"/>
<circle cx="149.1" cy="192.9" r="0.71"/>
<circle cx="127.0" cy="183.7" r="0.43"/>
<circle cx="128.0" cy="208.6" r="0.68"/>
<circle cx="162.7" cy="197.6" r="0.61"/>
<ellipse cx="158.1" cy="192.6" rx="0.97" ry="0.52" transform="rotate(78 158.1 192.6)"/>
<ellipse cx="142.8" cy="196.2" rx="0.81" ry="0.43" transform="rotate(38 142.8 196.2)"/>
<circle cx="145.0" cy="181.8" r="0.43"/>
<circle cx="139.1" cy="216.8" r="0.49"/>
<circle cx="164.9" cy="197.3" r="0.72"/>
<circle cx="146.7" cy="191.5" r="0.56"/>
<circle cx="149.3" cy="189.0" r="0.53"/>
<circle cx="132.1" cy="203.2" r="0.43"/>
</g>
<g fill="#3f60a8" fill-opacity="0.28">
<circle cx="131.5" cy="185.6" r="0.4"/>
<circle cx="151.8" cy="193.2" r="0.4"/>
<circle cx="166.5" cy="200.3" r="0.4"/>
<circle cx="148.5" cy="213.0" r="0.4"/>
<circle cx="133.3" cy="209.7" r="0.4"/>
<circle cx="154.8" cy="197.8" r="0.4"/>
<circle cx="170.2" cy="182.5" r="0.4"/>
<circle cx="165.4" cy="187.1" r="0.4"/>
<circle cx="164.3" cy="187.5" r="0.4"/>
<circle cx="125.4" cy="200.5" r="0.4"/>
<circle cx="168.5" cy="191.4" r="0.4"/>
<circle cx="146.8" cy="204.5" r="0.4"/>
<circle cx="134.8" cy="201.6" r="0.4"/>
<circle cx="123.2" cy="198.6" r="0.4"/>
<circle cx="160.3" cy="194.4" r="0.4"/>
<circle cx="133.6" cy="183.6" r="0.4"/>
<circle cx="157.4" cy="197.7" r="0.4"/>
<circle cx="167.9" cy="209.5" r="0.4"/>
<circle cx="127.7" cy="216.0" r="0.4"/>
<circle cx="168.8" cy="212.3" r="0.4"/>
<circle cx="163.8" cy="207.3" r="0.4"/>
<circle cx="158.4" cy="206.7" r="0.4"/>
<circle cx="151.9" cy="191.3" r="0.4"/>
<circle cx="129.3" cy="208.9" r="0.4"/>
<circle cx="152.2" cy="183.8" r="0.4"/>
<circle cx="154.5" cy="204.6" r="0.4"/>
<circle cx="148.0" cy="210.8" r="0.4"/>
<circle cx="166.1" cy="196.0" r="0.4"/>
<circle cx="163.0" cy="200.4" r="0.4"/>
<circle cx="151.0" cy="197.2" r="0.4"/>
<circle cx="168.9" cy="198.4" r="0.4"/>
<circle cx="169.8" cy="194.4" r="0.4"/>
<circle cx="156.0" cy="215.9" r="0.4"/>
<circle cx="156.5" cy="195.8" r="0.4"/>
<circle cx="126.5" cy="199.6" r="0.4"/>
<circle cx="143.2" cy="212.2" r="0.4"/>
<circle cx="161.5" cy="218.7" r="0.4"/>
<circle cx="144.9" cy="197.1" r="0.4"/>
<circle cx="150.6" cy="209.8" r="0.4"/>
<circle cx="126.7" cy="189.8" r="0.4"/>
<circle cx="129.9" cy="193.9" r="0.4"/>
<circle cx="137.5" cy="218.0" r="0.4"/>
<circle cx="133.0" cy="216.7" r="0.4"/>
<circle cx="137.3" cy="189.3" r="0.4"/>
<circle cx="170.9" cy="185.0" r="0.4"/>
<circle cx="128.3" cy="186.5" r="0.4"/>
<circle cx="126.0" cy="196.2" r="0.4"/>
<circle cx="133.2" cy="187.7" r="0.4"/>
<circle cx="123.5" cy="207.9" r="0.4"/>
<circle cx="125.1" cy="190.4" r="0.4"/>
<circle cx="150.7" cy="214.8" r="0.4"/>
<circle cx="155.3" cy="208.3" r="0.4"/>
<circle cx="157.4" cy="211.6" r="0.4"/>
<circle cx="164.9" cy="187.5" r="0.4"/>
<circle cx="125.4" cy="205.0" r="0.4"/>
<circle cx="148.4" cy="201.2" r="0.4"/>
<circle cx="161.4" cy="188.2" r="0.4"/>
<circle cx="157.7" cy="197.7" r="0.4"/>
<circle cx="143.6" cy="190.9" r="0.4"/>
<circle cx="136.6" cy="203.4" r="0.4"/>
<circle cx="150.1" cy="215.7" r="0.4"/>
<circle cx="136.6" cy="208.5" r="0.4"/>
<circle cx="127.5" cy="206.1" r="0.4"/>
<circle cx="130.7" cy="213.9" r="0.4"/>
<circle cx="170.5" cy="191.2" r="0.4"/>
<circle cx="162.7" cy="189.9" r="0.4"/>
<circle cx="137.8" cy="185.6" r="0.4"/>
<circle cx="144.6" cy="185.6" r="0.4"/>
<circle cx="157.6" cy="203.3" r="0.4"/>
<circle cx="143.5" cy="208.3" r="0.4"/>
</g>
<rect x="65.50" y="218.30" width="2.60" height="0.90" fill="#111"/>
<rect x="117.00" y="218.30" width="2.60" height="0.90" fill="#111"/>
<rect x="169.00" y="218.30" width="2.60" height="0.90" fill="#111"/>
<text x="32.30" y="176.20" font-size="6.8" fill="#1a1a1a" font-weight="normal" font-style="normal" text-anchor="start" textLength="16.70" lengthAdjust="spacingAndGlyphs">shCtrl</text>
<text x="82.30" y="176.20" font-size="6.8" fill="#1a1a1a" font-weight="normal" font-style="normal" text-anchor="start" textLength="26.90" lengthAdjust="spacingAndGlyphs">shGPS2-1</text>
<text x="132.50" y="176.20" font-size="6.8" fill="#1a1a1a" font-weight="normal" font-style="normal" text-anchor="start" textLength="27.60" lengthAdjust="spacingAndGlyphs">shGPS2-2</text>
<text x="56.90" y="227.90" font-size="6.8" fill="#1a1a1a" font-weight="normal" font-style="normal" text-anchor="start" textLength="76.20" lengthAdjust="spacingAndGlyphs">Benzidine staining at day 5</text>
<line x1="245.35" y1="179.40" x2="245.35" y2="180.80" stroke="#111" stroke-width="1.0" stroke-linecap="butt"/>
<line x1="243.35" y1="179.60" x2="247.35" y2="179.60" stroke="#111" stroke-width="1.1" stroke-linecap="butt"/>
<rect x="241.30" y="180.30" width="8.10" height="39.90" fill="#A00028"/>
<line x1="258.05" y1="194.80" x2="258.05" y2="196.10" stroke="#111" stroke-width="1.0" stroke-linecap="butt"/>
<line x1="256.05" y1="195.00" x2="260.05" y2="195.00" stroke="#111" stroke-width="1.1" stroke-linecap="butt"/>
<rect x="254.00" y="195.60" width="8.10" height="24.60" fill="#2B4782"/>
<line x1="270.50" y1="199.70" x2="270.50" y2="201.90" stroke="#111" stroke-width="1.0" stroke-linecap="butt"/>
<line x1="268.50" y1="199.90" x2="272.50" y2="199.90" stroke="#111" stroke-width="1.1" stroke-linecap="butt"/>
<rect x="266.40" y="201.40" width="8.20" height="18.80" fill="#6BAA3F"/>
<line x1="236.60" y1="220.20" x2="284.20" y2="220.20" stroke="#1a1a1a" stroke-width="1" stroke-linecap="butt"/>
<line x1="237.10" y1="169.10" x2="237.10" y2="220.70" stroke="#1a1a1a" stroke-width="1.1" stroke-linecap="butt"/>
<line x1="234.10" y1="171.45" x2="237.10" y2="171.45" stroke="#1a1a1a" stroke-width="1.0" stroke-linecap="butt"/>
<text x="220.32" y="173.95" font-size="7.0" fill="#1a1a1a" font-weight="normal" font-style="normal" text-anchor="start" textLength="10.18" lengthAdjust="spacingAndGlyphs">100</text>
<line x1="234.10" y1="181.20" x2="237.10" y2="181.20" stroke="#1a1a1a" stroke-width="1.0" stroke-linecap="butt"/>
<text x="223.72" y="183.70" font-size="7.0" fill="#1a1a1a" font-weight="normal" font-style="normal" text-anchor="start" textLength="6.78" lengthAdjust="spacingAndGlyphs">80</text>
<line x1="234.10" y1="190.95" x2="237.10" y2="190.95" stroke="#1a1a1a" stroke-width="1.0" stroke-linecap="butt"/>
<text x="223.72" y="193.45" font-size="7.0" fill="#1a1a1a" font-weight="normal" font-style="normal" text-anchor="start" textLength="6.78" lengthAdjust="spacingAndGlyphs">60</text>
<line x1="234.10" y1="200.70" x2="237.10" y2="200.70" stroke="#1a1a1a" stroke-width="1.0" stroke-linecap="butt"/>
<text x="223.72" y="203.20" font-size="7.0" fill="#1a1a1a" font-weight="normal" font-style="normal" text-anchor="start" textLength="6.78" lengthAdjust="spacingAndGlyphs">40</text>
<line x1="234.10" y1="210.45" x2="237.10" y2="210.45" stroke="#1a1a1a" stroke-width="1.0" stroke-linecap="butt"/>
<text x="223.72" y="212.95" font-size="7.0" fill="#1a1a1a" font-weight="normal" font-style="normal" text-anchor="start" textLength="6.78" lengthAdjust="spacingAndGlyphs">20</text>
<line x1="234.10" y1="220.20" x2="237.10" y2="220.20" stroke="#1a1a1a" stroke-width="1.0" stroke-linecap="butt"/>
<text x="227.11" y="222.70" font-size="7.0" fill="#1a1a1a" font-weight="normal" font-style="normal" text-anchor="start" textLength="3.39" lengthAdjust="spacingAndGlyphs">0</text>
<line x1="245.30" y1="220.20" x2="245.30" y2="222.90" stroke="#1a1a1a" stroke-width="0.9" stroke-linecap="butt"/>
<line x1="258.00" y1="220.20" x2="258.00" y2="222.90" stroke="#1a1a1a" stroke-width="0.9" stroke-linecap="butt"/>
<line x1="270.50" y1="220.20" x2="270.50" y2="222.90" stroke="#1a1a1a" stroke-width="0.9" stroke-linecap="butt"/>
<line x1="245.60" y1="177.20" x2="258.30" y2="177.20" stroke="#333" stroke-width="1.0" stroke-linecap="butt"/>
<text x="251.95" y="177.20" font-size="5.8" fill="#3a3a3a" font-weight="normal" font-style="normal" text-anchor="middle" stroke="none">***</text>
<line x1="245.60" y1="171.90" x2="271.00" y2="171.90" stroke="#333" stroke-width="1.0" stroke-linecap="butt"/>
<text x="258.30" y="171.90" font-size="5.8" fill="#3a3a3a" font-weight="normal" font-style="normal" text-anchor="middle" stroke="none">***</text>
<text transform="translate(205.60,194.30) rotate(-90)" x="-26.50" y="0" font-size="8.0" fill="#1a1a1a" stroke-width="0.04" textLength="53.00" lengthAdjust="spacingAndGlyphs">Benzidine positive</text>
<text transform="translate(215.80,194.40) rotate(-90)" x="-13.00" y="0" font-size="8.0" fill="#1a1a1a" stroke-width="0.04" textLength="26.00" lengthAdjust="spacingAndGlyphs">cells (%)</text>
<text transform="translate(247.50,230.00) rotate(-45)" x="-15.50" y="0" font-size="6.8" fill="#1a1a1a" font-style="normal" textLength="15.50" lengthAdjust="spacingAndGlyphs">shCtrl</text>
<text transform="translate(260.20,230.00) rotate(-45)" x="-27.00" y="0" font-size="6.8" fill="#1a1a1a" font-style="normal" textLength="27.00" lengthAdjust="spacingAndGlyphs">shGPS2-1</text>
<text transform="translate(272.70,230.00) rotate(-45)" x="-27.00" y="0" font-size="6.8" fill="#1a1a1a" font-style="normal" textLength="27.00" lengthAdjust="spacingAndGlyphs">shGPS2-2</text>
<rect x="340.30" y="176.20" width="5.30" height="43.70" fill="#A00028"/>
<line x1="348.25" y1="212.90" x2="348.25" y2="214.30" stroke="#111" stroke-width="1.0" stroke-linecap="butt"/>
<line x1="346.65" y1="213.10" x2="349.85" y2="213.10" stroke="#111" stroke-width="1.1" stroke-linecap="butt"/>
<rect x="345.60" y="213.80" width="5.30" height="6.10" fill="#2B4782"/>
<line x1="345.60" y1="219.90" x2="345.60" y2="222.50" stroke="#1a1a1a" stroke-width="0.9" stroke-linecap="butt"/>
<line x1="342.40" y1="174.40" x2="349.70" y2="174.40" stroke="#333" stroke-width="1.0" stroke-linecap="butt"/>
<text x="346.05" y="174.40" font-size="5.8" fill="#3a3a3a" font-weight="normal" font-style="normal" text-anchor="middle" stroke="none">***</text>
<text transform="translate(348.40,229.40) rotate(-45)" x="-16.00" y="0" font-size="6.8" fill="#1a1a1a" font-style="italic" textLength="16.00" lengthAdjust="spacingAndGlyphs">GPS2</text>
<rect x="356.20" y="176.20" width="5.30" height="43.70" fill="#A00028"/>
<line x1="364.15" y1="171.70" x2="364.15" y2="181.90" stroke="#111" stroke-width="1.0" stroke-linecap="butt"/>
<line x1="362.55" y1="171.90" x2="365.75" y2="171.90" stroke="#111" stroke-width="1.1" stroke-linecap="butt"/>
<rect x="361.50" y="181.40" width="5.30" height="38.50" fill="#2B4782"/>
<line x1="361.50" y1="219.90" x2="361.50" y2="222.50" stroke="#1a1a1a" stroke-width="0.9" stroke-linecap="butt"/>
<line x1="358.40" y1="170.50" x2="364.55" y2="170.50" stroke="#222" stroke-width="1.0" stroke-linecap="butt"/>
<text x="361.70" y="167.80" font-size="5.5" fill="#333" font-weight="normal" font-style="normal" text-anchor="middle" stroke="none">ns</text>
<text transform="translate(364.30,229.40) rotate(-45)" x="-20.00" y="0" font-size="6.8" fill="#1a1a1a" font-style="italic" textLength="20.00" lengthAdjust="spacingAndGlyphs">GATA1</text>
<rect x="372.10" y="176.20" width="5.30" height="43.70" fill="#A00028"/>
<line x1="380.05" y1="184.40" x2="380.05" y2="188.70" stroke="#111" stroke-width="1.0" stroke-linecap="butt"/>
<line x1="378.45" y1="184.60" x2="381.65" y2="184.60" stroke="#111" stroke-width="1.1" stroke-linecap="butt"/>
<rect x="377.40" y="188.20" width="5.30" height="31.70" fill="#2B4782"/>
<line x1="377.40" y1="219.90" x2="377.40" y2="222.50" stroke="#1a1a1a" stroke-width="0.9" stroke-linecap="butt"/>
<line x1="374.10" y1="174.30" x2="380.70" y2="174.30" stroke="#333" stroke-width="1.0" stroke-linecap="butt"/>
<text x="377.40" y="171.20" font-size="5.5" fill="#333" font-weight="normal" font-style="normal" text-anchor="middle" stroke="none">ns</text>
<text transform="translate(380.20,229.40) rotate(-45)" x="-15.00" y="0" font-size="6.8" fill="#1a1a1a" font-style="italic" textLength="15.00" lengthAdjust="spacingAndGlyphs">EKLF</text>
<rect x="387.70" y="176.20" width="5.30" height="43.70" fill="#A00028"/>
<line x1="395.65" y1="207.70" x2="395.65" y2="209.00" stroke="#111" stroke-width="1.0" stroke-linecap="butt"/>
<line x1="394.05" y1="207.90" x2="397.25" y2="207.90" stroke="#111" stroke-width="1.1" stroke-linecap="butt"/>
<rect x="393.00" y="208.50" width="5.30" height="11.40" fill="#2B4782"/>
<line x1="393.00" y1="219.90" x2="393.00" y2="222.50" stroke="#1a1a1a" stroke-width="0.9" stroke-linecap="butt"/>
<line x1="389.80" y1="174.40" x2="397.10" y2="174.40" stroke="#333" stroke-width="1.0" stroke-linecap="butt"/>
<text x="393.45" y="174.40" font-size="5.8" fill="#3a3a3a" font-weight="normal" font-style="normal" text-anchor="middle" stroke="none">***</text>
<text transform="translate(395.80,229.40) rotate(-45)" x="-19.50" y="0" font-size="6.8" fill="#1a1a1a" font-style="italic" textLength="19.50" lengthAdjust="spacingAndGlyphs">ALAS2</text>
<rect x="403.75" y="176.20" width="5.30" height="43.70" fill="#A00028"/>
<line x1="411.70" y1="207.50" x2="411.70" y2="208.80" stroke="#111" stroke-width="1.0" stroke-linecap="butt"/>
<line x1="410.10" y1="207.70" x2="413.30" y2="207.70" stroke="#111" stroke-width="1.1" stroke-linecap="butt"/>
<rect x="409.05" y="208.30" width="5.30" height="11.60" fill="#2B4782"/>
<line x1="409.05" y1="219.90" x2="409.05" y2="222.50" stroke="#1a1a1a" stroke-width="0.9" stroke-linecap="butt"/>
<line x1="405.85" y1="174.40" x2="413.15" y2="174.40" stroke="#333" stroke-width="1.0" stroke-linecap="butt"/>
<text x="409.50" y="174.40" font-size="5.8" fill="#3a3a3a" font-weight="normal" font-style="normal" text-anchor="middle" stroke="none">***</text>
<text transform="translate(411.85,229.40) rotate(-45)" x="-12.50" y="0" font-size="6.8" fill="#1a1a1a" font-style="italic" textLength="12.50" lengthAdjust="spacingAndGlyphs">GPA</text>
<rect x="419.60" y="176.20" width="5.30" height="43.70" fill="#A00028"/>
<line x1="427.55" y1="200.50" x2="427.55" y2="203.00" stroke="#111" stroke-width="1.0" stroke-linecap="butt"/>
<line x1="425.95" y1="200.70" x2="429.15" y2="200.70" stroke="#111" stroke-width="1.1" stroke-linecap="butt"/>
<rect x="424.90" y="202.50" width="5.30" height="17.40" fill="#2B4782"/>
<line x1="424.90" y1="219.90" x2="424.90" y2="222.50" stroke="#1a1a1a" stroke-width="0.9" stroke-linecap="butt"/>
<line x1="421.70" y1="174.40" x2="429.00" y2="174.40" stroke="#333" stroke-width="1.0" stroke-linecap="butt"/>
<text x="425.35" y="174.40" font-size="5.8" fill="#3a3a3a" font-weight="normal" font-style="normal" text-anchor="middle" stroke="none">**</text>
<text transform="translate(427.70,229.40) rotate(-45)" x="-22.00" y="0" font-size="6.8" fill="#1a1a1a" font-style="italic" textLength="22.00" lengthAdjust="spacingAndGlyphs">BCl11A</text>
<rect x="435.50" y="176.20" width="5.30" height="43.70" fill="#A00028"/>
<line x1="443.45" y1="190.00" x2="443.45" y2="193.80" stroke="#111" stroke-width="1.0" stroke-linecap="butt"/>
<line x1="441.85" y1="190.20" x2="445.05" y2="190.20" stroke="#111" stroke-width="1.1" stroke-linecap="butt"/>
<rect x="440.80" y="193.30" width="5.30" height="26.60" fill="#2B4782"/>
<line x1="440.80" y1="219.90" x2="440.80" y2="222.50" stroke="#1a1a1a" stroke-width="0.9" stroke-linecap="butt"/>
<line x1="437.60" y1="174.40" x2="444.90" y2="174.40" stroke="#333" stroke-width="1.0" stroke-linecap="butt"/>
<text x="441.25" y="174.40" font-size="5.8" fill="#3a3a3a" font-weight="normal" font-style="normal" text-anchor="middle" stroke="none">**</text>
<text transform="translate(443.60,229.40) rotate(-45)" x="-16.00" y="0" font-size="6.8" fill="#1a1a1a" font-style="italic" textLength="16.00" lengthAdjust="spacingAndGlyphs">NFE2</text>
<rect x="451.40" y="176.20" width="5.30" height="43.70" fill="#A00028"/>
<line x1="459.35" y1="194.30" x2="459.35" y2="198.00" stroke="#111" stroke-width="1.0" stroke-linecap="butt"/>
<line x1="457.75" y1="194.50" x2="460.95" y2="194.50" stroke="#111" stroke-width="1.1" stroke-linecap="butt"/>
<rect x="456.70" y="197.50" width="5.30" height="22.40" fill="#2B4782"/>
<line x1="456.70" y1="219.90" x2="456.70" y2="222.50" stroke="#1a1a1a" stroke-width="0.9" stroke-linecap="butt"/>
<line x1="453.50" y1="174.40" x2="460.80" y2="174.40" stroke="#333" stroke-width="1.0" stroke-linecap="butt"/>
<text x="457.15" y="174.40" font-size="5.8" fill="#3a3a3a" font-weight="normal" font-style="normal" text-anchor="middle" stroke="none">*</text>
<text transform="translate(459.50,229.40) rotate(-45)" x="-17.00" y="0" font-size="6.8" fill="#1a1a1a" font-style="italic" textLength="17.00" lengthAdjust="spacingAndGlyphs">HBA1</text>
<rect x="467.20" y="176.20" width="5.30" height="43.70" fill="#A00028"/>
<line x1="475.15" y1="199.20" x2="475.15" y2="201.30" stroke="#111" stroke-width="1.0" stroke-linecap="butt"/>
<line x1="473.55" y1="199.40" x2="476.75" y2="199.40" stroke="#111" stroke-width="1.1" stroke-linecap="butt"/>
<rect x="472.50" y="200.80" width="5.30" height="19.10" fill="#2B4782"/>
<line x1="472.50" y1="219.90" x2="472.50" y2="222.50" stroke="#1a1a1a" stroke-width="0.9" stroke-linecap="butt"/>
<line x1="469.30" y1="174.40" x2="476.60" y2="174.40" stroke="#333" stroke-width="1.0" stroke-linecap="butt"/>
<text x="472.95" y="174.40" font-size="5.8" fill="#3a3a3a" font-weight="normal" font-style="normal" text-anchor="middle" stroke="none">**</text>
<text transform="translate(475.30,229.40) rotate(-45)" x="-13.00" y="0" font-size="6.8" fill="#1a1a1a" font-style="italic" textLength="13.00" lengthAdjust="spacingAndGlyphs">HBB</text>
<line x1="337.10" y1="219.90" x2="480.00" y2="219.90" stroke="#1a1a1a" stroke-width="1" stroke-linecap="butt"/>
<line x1="337.60" y1="164.90" x2="337.60" y2="220.40" stroke="#1a1a1a" stroke-width="1.1" stroke-linecap="butt"/>
<line x1="334.60" y1="167.46" x2="337.60" y2="167.46" stroke="#1a1a1a" stroke-width="1.0" stroke-linecap="butt"/>
<text x="322.52" y="169.96" font-size="7.0" fill="#1a1a1a" font-weight="normal" font-style="normal" text-anchor="start" textLength="8.48" lengthAdjust="spacingAndGlyphs">1.2</text>
<line x1="334.60" y1="176.20" x2="337.60" y2="176.20" stroke="#1a1a1a" stroke-width="1.0" stroke-linecap="butt"/>
<text x="322.52" y="178.70" font-size="7.0" fill="#1a1a1a" font-weight="normal" font-style="normal" text-anchor="start" textLength="8.48" lengthAdjust="spacingAndGlyphs">1.0</text>
<line x1="334.60" y1="184.94" x2="337.60" y2="184.94" stroke="#1a1a1a" stroke-width="1.0" stroke-linecap="butt"/>
<text x="322.52" y="187.44" font-size="7.0" fill="#1a1a1a" font-weight="normal" font-style="normal" text-anchor="start" textLength="8.48" lengthAdjust="spacingAndGlyphs">0.8</text>
<line x1="334.60" y1="193.68" x2="337.60" y2="193.68" stroke="#1a1a1a" stroke-width="1.0" stroke-linecap="butt"/>
<text x="322.52" y="196.18" font-size="7.0" fill="#1a1a1a" font-weight="normal" font-style="normal" text-anchor="start" textLength="8.48" lengthAdjust="spacingAndGlyphs">0.6</text>
<line x1="334.60" y1="202.42" x2="337.60" y2="202.42" stroke="#1a1a1a" stroke-width="1.0" stroke-linecap="butt"/>
<text x="322.52" y="204.92" font-size="7.0" fill="#1a1a1a" font-weight="normal" font-style="normal" text-anchor="start" textLength="8.48" lengthAdjust="spacingAndGlyphs">0.4</text>
<line x1="334.60" y1="211.16" x2="337.60" y2="211.16" stroke="#1a1a1a" stroke-width="1.0" stroke-linecap="butt"/>
<text x="322.52" y="213.66" font-size="7.0" fill="#1a1a1a" font-weight="normal" font-style="normal" text-anchor="start" textLength="8.48" lengthAdjust="spacingAndGlyphs">0.2</text>
<line x1="334.60" y1="219.90" x2="337.60" y2="219.90" stroke="#1a1a1a" stroke-width="1.0" stroke-linecap="butt"/>
<text x="322.52" y="222.40" font-size="7.0" fill="#1a1a1a" font-weight="normal" font-style="normal" text-anchor="start" textLength="8.48" lengthAdjust="spacingAndGlyphs">0.0</text>
<text transform="translate(317.40,192.00) rotate(-90)" x="-29.35" y="0" font-size="8.0" fill="#1a1a1a" stroke-width="0.04" textLength="58.70" lengthAdjust="spacingAndGlyphs">Relative mRNA level</text>
<rect x="450.80" y="151.30" width="4.30" height="4.40" fill="#A00028"/>
<text x="458.00" y="155.40" font-size="6.2" fill="#1a1a1a" font-weight="normal" font-style="normal" text-anchor="start" textLength="14.00" lengthAdjust="spacingAndGlyphs">shCtrl</text>
<rect x="450.80" y="160.00" width="4.30" height="4.40" fill="#2B4782"/>
<text x="458.00" y="164.10" font-size="6.2" fill="#1a1a1a" font-weight="normal" font-style="normal" text-anchor="start" textLength="22.50" lengthAdjust="spacingAndGlyphs">shGPS2-1</text>
<line x1="63.78" y1="296.20" x2="63.78" y2="299.90" stroke="#111" stroke-width="1.0" stroke-linecap="butt"/>
<line x1="62.28" y1="296.40" x2="65.28" y2="296.40" stroke="#111" stroke-width="1.1" stroke-linecap="butt"/>
<rect x="60.90" y="299.40" width="5.77" height="49.20" fill="#A00028"/>
<line x1="69.56" y1="322.30" x2="69.56" y2="324.90" stroke="#111" stroke-width="1.0" stroke-linecap="butt"/>
<line x1="68.06" y1="322.50" x2="71.06" y2="322.50" stroke="#111" stroke-width="1.1" stroke-linecap="butt"/>
<rect x="66.67" y="324.40" width="5.77" height="24.20" fill="#2B4782"/>
<line x1="75.32" y1="326.50" x2="75.32" y2="329.10" stroke="#111" stroke-width="1.0" stroke-linecap="butt"/>
<line x1="73.82" y1="326.70" x2="76.82" y2="326.70" stroke="#111" stroke-width="1.1" stroke-linecap="butt"/>
<rect x="72.44" y="328.60" width="5.77" height="20.00" fill="#6BAA3F"/>
<line x1="69.55" y1="348.60" x2="69.55" y2="351.40" stroke="#1a1a1a" stroke-width="0.9" stroke-linecap="butt"/>
<line x1="86.78" y1="317.30" x2="86.78" y2="319.70" stroke="#111" stroke-width="1.0" stroke-linecap="butt"/>
<line x1="85.28" y1="317.50" x2="88.28" y2="317.50" stroke="#111" stroke-width="1.1" stroke-linecap="butt"/>
<rect x="83.90" y="319.20" width="5.77" height="29.40" fill="#A00028"/>
<line x1="92.56" y1="340.30" x2="92.56" y2="341.50" stroke="#111" stroke-width="1.0" stroke-linecap="butt"/>
<line x1="91.06" y1="340.50" x2="94.06" y2="340.50" stroke="#111" stroke-width="1.1" stroke-linecap="butt"/>
<rect x="89.67" y="341.00" width="5.77" height="7.60" fill="#2B4782"/>
<line x1="98.33" y1="343.00" x2="98.33" y2="344.30" stroke="#111" stroke-width="1.0" stroke-linecap="butt"/>
<line x1="96.83" y1="343.20" x2="99.83" y2="343.20" stroke="#111" stroke-width="1.1" stroke-linecap="butt"/>
<rect x="95.44" y="343.80" width="5.77" height="4.80" fill="#6BAA3F"/>
<line x1="92.56" y1="348.60" x2="92.56" y2="351.40" stroke="#1a1a1a" stroke-width="0.9" stroke-linecap="butt"/>
<line x1="109.88" y1="328.00" x2="109.88" y2="330.20" stroke="#111" stroke-width="1.0" stroke-linecap="butt"/>
<line x1="108.38" y1="328.20" x2="111.38" y2="328.20" stroke="#111" stroke-width="1.1" stroke-linecap="butt"/>
<rect x="107.00" y="329.70" width="5.77" height="18.90" fill="#A00028"/>
<line x1="115.66" y1="330.90" x2="115.66" y2="333.10" stroke="#111" stroke-width="1.0" stroke-linecap="butt"/>
<line x1="114.16" y1="331.10" x2="117.16" y2="331.10" stroke="#111" stroke-width="1.1" stroke-linecap="butt"/>
<rect x="112.77" y="332.60" width="5.77" height="16.00" fill="#2B4782"/>
<line x1="121.42" y1="331.70" x2="121.42" y2="334.20" stroke="#111" stroke-width="1.0" stroke-linecap="butt"/>
<line x1="119.92" y1="331.90" x2="122.92" y2="331.90" stroke="#111" stroke-width="1.1" stroke-linecap="butt"/>
<rect x="118.54" y="333.70" width="5.77" height="14.90" fill="#6BAA3F"/>
<line x1="115.66" y1="348.60" x2="115.66" y2="351.40" stroke="#1a1a1a" stroke-width="0.9" stroke-linecap="butt"/>
<rect x="130.00" y="347.50" width="5.77" height="1.10" fill="#A00028"/>
<rect x="135.77" y="347.20" width="5.77" height="1.40" fill="#2B4782"/>
<rect x="141.54" y="347.70" width="5.77" height="0.90" fill="#6BAA3F"/>
<line x1="138.66" y1="348.60" x2="138.66" y2="351.40" stroke="#1a1a1a" stroke-width="0.9" stroke-linecap="butt"/>
<line x1="57.60" y1="348.60" x2="149.70" y2="348.60" stroke="#1a1a1a" stroke-width="1" stroke-linecap="butt"/>
<line x1="58.10" y1="289.50" x2="58.10" y2="349.10" stroke="#1a1a1a" stroke-width="1.1" stroke-linecap="butt"/>
<line x1="55.10" y1="291.80" x2="58.10" y2="291.80" stroke="#1a1a1a" stroke-width="1.0" stroke-linecap="butt"/>
<text x="41.32" y="294.30" font-size="7.0" fill="#1a1a1a" font-weight="normal" font-style="normal" text-anchor="start" textLength="10.18" lengthAdjust="spacingAndGlyphs">400</text>
<line x1="55.10" y1="306.00" x2="58.10" y2="306.00" stroke="#1a1a1a" stroke-width="1.0" stroke-linecap="butt"/>
<text x="41.32" y="308.50" font-size="7.0" fill="#1a1a1a" font-weight="normal" font-style="normal" text-anchor="start" textLength="10.18" lengthAdjust="spacingAndGlyphs">300</text>
<line x1="55.10" y1="320.20" x2="58.10" y2="320.20" stroke="#1a1a1a" stroke-width="1.0" stroke-linecap="butt"/>
<text x="41.32" y="322.70" font-size="7.0" fill="#1a1a1a" font-weight="normal" font-style="normal" text-anchor="start" textLength="10.18" lengthAdjust="spacingAndGlyphs">200</text>
<line x1="55.10" y1="334.40" x2="58.10" y2="334.40" stroke="#1a1a1a" stroke-width="1.0" stroke-linecap="butt"/>
<text x="41.32" y="336.90" font-size="7.0" fill="#1a1a1a" font-weight="normal" font-style="normal" text-anchor="start" textLength="10.18" lengthAdjust="spacingAndGlyphs">100</text>
<line x1="55.10" y1="348.60" x2="58.10" y2="348.60" stroke="#1a1a1a" stroke-width="1.0" stroke-linecap="butt"/>
<text x="48.11" y="351.10" font-size="7.0" fill="#1a1a1a" font-weight="normal" font-style="normal" text-anchor="start" textLength="3.39" lengthAdjust="spacingAndGlyphs">0</text>
<line x1="63.80" y1="288.20" x2="76.70" y2="288.20" stroke="#333" stroke-width="1.0" stroke-linecap="butt"/>
<text x="70.25" y="288.20" font-size="5.8" fill="#3a3a3a" font-weight="normal" font-style="normal" text-anchor="middle" stroke="none">**</text>
<line x1="63.80" y1="293.80" x2="70.10" y2="293.80" stroke="#333" stroke-width="1.0" stroke-linecap="butt"/>
<text x="66.95" y="293.80" font-size="5.8" fill="#3a3a3a" font-weight="normal" font-style="normal" text-anchor="middle" stroke="none">**</text>
<line x1="86.30" y1="309.40" x2="98.50" y2="309.40" stroke="#333" stroke-width="1.0" stroke-linecap="butt"/>
<text x="92.40" y="309.40" font-size="5.8" fill="#3a3a3a" font-weight="normal" font-style="normal" text-anchor="middle" stroke="none">**</text>
<line x1="87.60" y1="315.40" x2="93.80" y2="315.40" stroke="#333" stroke-width="1.0" stroke-linecap="butt"/>
<text x="90.70" y="315.40" font-size="5.8" fill="#3a3a3a" font-weight="normal" font-style="normal" text-anchor="middle" stroke="none">**</text>
<text transform="translate(26.00,318.70) rotate(-90)" x="-29.50" y="0" font-size="8.0" fill="#1a1a1a" stroke-width="0.04" textLength="59.00" lengthAdjust="spacingAndGlyphs">Number of colonies</text>
<text transform="translate(37.00,318.90) rotate(-90)" x="-41.00" y="0" font-size="8.0" fill="#1a1a1a" stroke-width="0.04" textLength="82.00" lengthAdjust="spacingAndGlyphs">per 3,000 CD34<tspan dy="-2.8" font-size="6.2">+</tspan><tspan dy="2.8">GFP</tspan><tspan dy="-2.8" font-size="6.2">+</tspan><tspan dy="2.8"> cells</tspan></text>
<text transform="translate(72.40,357.80) rotate(-45)" x="-15.00" y="0" font-size="6.8" fill="#1a1a1a" font-style="normal" textLength="15.00" lengthAdjust="spacingAndGlyphs">Total</text>
<text transform="translate(95.40,357.80) rotate(-45)" x="-19.50" y="0" font-size="6.8" fill="#1a1a1a" font-style="normal" textLength="19.50" lengthAdjust="spacingAndGlyphs">BFU-E</text>
<text transform="translate(118.50,357.80) rotate(-45)" x="-25.50" y="0" font-size="6.8" fill="#1a1a1a" font-style="normal" textLength="25.50" lengthAdjust="spacingAndGlyphs">CFU-GM</text>
<text transform="translate(141.50,357.80) rotate(-45)" x="-34.00" y="0" font-size="6.8" fill="#1a1a1a" font-style="normal" textLength="34.00" lengthAdjust="spacingAndGlyphs">CFU-GEMM</text>
<rect x="119.20" y="290.50" width="4.80" height="4.60" fill="#A00028"/>
<text x="127.20" y="294.60" font-size="6.2" fill="#1a1a1a" font-weight="normal" font-style="normal" text-anchor="start" textLength="13.60" lengthAdjust="spacingAndGlyphs">shCtrl</text>
<rect x="119.20" y="299.25" width="4.80" height="4.60" fill="#2B4782"/>
<text x="127.20" y="303.35" font-size="6.2" fill="#1a1a1a" font-weight="normal" font-style="normal" text-anchor="start" textLength="22.80" lengthAdjust="spacingAndGlyphs">shGPS2-1</text>
<rect x="119.20" y="308.00" width="4.80" height="4.60" fill="#6BAA3F"/>
<text x="127.20" y="312.10" font-size="6.2" fill="#1a1a1a" font-weight="normal" font-style="normal" text-anchor="start" textLength="22.80" lengthAdjust="spacingAndGlyphs">shGPS2-2</text>
<rect x="204.50" y="302.50" width="14.90" height="46.00" fill="#6BAA3F"/>
<rect x="204.50" y="302.70" width="14.90" height="45.80" fill="#2B4782"/>
<rect x="204.50" y="320.10" width="14.90" height="28.40" fill="#A00028"/>
<line x1="208.35" y1="302.00" x2="215.55" y2="302.00" stroke="#000" stroke-width="1.3" stroke-linecap="butt"/>
<line x1="208.65" y1="319.80" x2="215.25" y2="319.80" stroke="#111" stroke-width="0.9" stroke-linecap="butt"/>
<line x1="211.95" y1="348.50" x2="211.95" y2="351.20" stroke="#1a1a1a" stroke-width="0.9" stroke-linecap="butt"/>
<rect x="227.10" y="302.30" width="15.10" height="46.20" fill="#6BAA3F"/>
<rect x="227.10" y="303.00" width="15.10" height="45.50" fill="#2B4782"/>
<rect x="227.10" y="334.40" width="15.10" height="14.10" fill="#A00028"/>
<line x1="231.05" y1="301.80" x2="238.25" y2="301.80" stroke="#000" stroke-width="1.3" stroke-linecap="butt"/>
<line x1="231.35" y1="334.10" x2="237.95" y2="334.10" stroke="#111" stroke-width="0.9" stroke-linecap="butt"/>
<line x1="234.65" y1="348.50" x2="234.65" y2="351.20" stroke="#1a1a1a" stroke-width="0.9" stroke-linecap="butt"/>
<rect x="250.00" y="302.50" width="15.10" height="46.00" fill="#6BAA3F"/>
<rect x="250.00" y="302.70" width="15.10" height="45.80" fill="#2B4782"/>
<rect x="250.00" y="337.50" width="15.10" height="11.00" fill="#A00028"/>
<line x1="253.95" y1="302.00" x2="261.15" y2="302.00" stroke="#000" stroke-width="1.3" stroke-linecap="butt"/>
<line x1="254.25" y1="337.20" x2="260.85" y2="337.20" stroke="#111" stroke-width="0.9" stroke-linecap="butt"/>
<line x1="257.55" y1="348.50" x2="257.55" y2="351.20" stroke="#1a1a1a" stroke-width="0.9" stroke-linecap="butt"/>
<text x="234.70" y="334.50" font-size="6.6" fill="#ffffff" font-weight="bold" font-style="normal" text-anchor="middle" stroke="#fff" stroke-width="0.55">***</text>
<text x="257.50" y="338.40" font-size="6.6" fill="#ffffff" font-weight="bold" font-style="normal" text-anchor="middle" stroke="#fff" stroke-width="0.55">***</text>
<line x1="198.00" y1="348.50" x2="269.30" y2="348.50" stroke="#1a1a1a" stroke-width="1" stroke-linecap="butt"/>
<line x1="200.60" y1="289.90" x2="200.60" y2="349.00" stroke="#1a1a1a" stroke-width="1.1" stroke-linecap="butt"/>
<line x1="197.60" y1="292.30" x2="200.60" y2="292.30" stroke="#1a1a1a" stroke-width="1.0" stroke-linecap="butt"/>
<text x="183.82" y="294.80" font-size="7.0" fill="#1a1a1a" font-weight="normal" font-style="normal" text-anchor="start" textLength="10.18" lengthAdjust="spacingAndGlyphs">120</text>
<line x1="197.60" y1="306.35" x2="200.60" y2="306.35" stroke="#1a1a1a" stroke-width="1.0" stroke-linecap="butt"/>
<text x="187.22" y="308.85" font-size="7.0" fill="#1a1a1a" font-weight="normal" font-style="normal" text-anchor="start" textLength="6.78" lengthAdjust="spacingAndGlyphs">90</text>
<line x1="197.60" y1="320.40" x2="200.60" y2="320.40" stroke="#1a1a1a" stroke-width="1.0" stroke-linecap="butt"/>
<text x="187.22" y="322.90" font-size="7.0" fill="#1a1a1a" font-weight="normal" font-style="normal" text-anchor="start" textLength="6.78" lengthAdjust="spacingAndGlyphs">60</text>
<line x1="197.60" y1="334.45" x2="200.60" y2="334.45" stroke="#1a1a1a" stroke-width="1.0" stroke-linecap="butt"/>
<text x="187.22" y="336.95" font-size="7.0" fill="#1a1a1a" font-weight="normal" font-style="normal" text-anchor="start" textLength="6.78" lengthAdjust="spacingAndGlyphs">30</text>
<line x1="197.60" y1="348.50" x2="200.60" y2="348.50" stroke="#1a1a1a" stroke-width="1.0" stroke-linecap="butt"/>
<text x="190.61" y="351.00" font-size="7.0" fill="#1a1a1a" font-weight="normal" font-style="normal" text-anchor="start" textLength="3.39" lengthAdjust="spacingAndGlyphs">0</text>
<text transform="translate(178.40,319.20) rotate(-90)" x="-20.80" y="0" font-size="8.0" fill="#1a1a1a" stroke-width="0.04" textLength="41.60" lengthAdjust="spacingAndGlyphs">frequency (%)</text>
<text transform="translate(214.40,359.50) rotate(-45)" x="-15.50" y="0" font-size="6.8" fill="#1a1a1a" font-style="normal" textLength="15.50" lengthAdjust="spacingAndGlyphs">shCtrl</text>
<text transform="translate(237.20,359.50) rotate(-45)" x="-27.00" y="0" font-size="6.8" fill="#1a1a1a" font-style="normal" textLength="27.00" lengthAdjust="spacingAndGlyphs">shGPS2-1</text>
<text transform="translate(259.90,359.50) rotate(-45)" x="-27.00" y="0" font-size="6.8" fill="#1a1a1a" font-style="normal" textLength="27.00" lengthAdjust="spacingAndGlyphs">shGPS2-2</text>
<rect x="235.70" y="275.50" width="4.70" height="4.50" fill="#A00028"/>
<text x="243.60" y="279.40" font-size="6.2" fill="#1a1a1a" font-weight="normal" font-style="normal" text-anchor="start" textLength="14.10" lengthAdjust="spacingAndGlyphs">BFU-E</text>
<rect x="235.70" y="284.30" width="4.70" height="4.50" fill="#2B4782"/>
<text x="243.60" y="288.20" font-size="6.2" fill="#1a1a1a" font-weight="normal" font-style="normal" text-anchor="start" textLength="21.10" lengthAdjust="spacingAndGlyphs">CFU-GM</text>
<rect x="235.70" y="293.10" width="4.70" height="4.50" fill="#6BAA3F"/>
<text x="243.60" y="297.00" font-size="6.2" fill="#1a1a1a" font-weight="normal" font-style="normal" text-anchor="start" textLength="29.90" lengthAdjust="spacingAndGlyphs">CFU-GEMM</text>
<line x1="348.10" y1="298.20" x2="348.10" y2="306.70" stroke="#111" stroke-width="1.0" stroke-linecap="butt"/>
<line x1="344.60" y1="298.40" x2="351.60" y2="298.40" stroke="#111" stroke-width="1.1" stroke-linecap="butt"/>
<rect x="341.20" y="306.20" width="13.80" height="42.30" fill="#A00028"/>
<line x1="367.70" y1="328.40" x2="367.70" y2="334.00" stroke="#111" stroke-width="1.0" stroke-linecap="butt"/>
<line x1="364.20" y1="328.60" x2="371.20" y2="328.60" stroke="#111" stroke-width="1.1" stroke-linecap="butt"/>
<rect x="360.80" y="333.50" width="13.80" height="15.00" fill="#A00028"/>
<line x1="333.00" y1="348.50" x2="381.00" y2="348.50" stroke="#1a1a1a" stroke-width="1" stroke-linecap="butt"/>
<line x1="334.70" y1="287.30" x2="334.70" y2="349.00" stroke="#1a1a1a" stroke-width="1.1" stroke-linecap="butt"/>
<line x1="331.70" y1="289.85" x2="334.70" y2="289.85" stroke="#1a1a1a" stroke-width="1.0" stroke-linecap="butt"/>
<text x="321.32" y="292.35" font-size="7.0" fill="#1a1a1a" font-weight="normal" font-style="normal" text-anchor="start" textLength="6.78" lengthAdjust="spacingAndGlyphs">30</text>
<line x1="331.70" y1="309.40" x2="334.70" y2="309.40" stroke="#1a1a1a" stroke-width="1.0" stroke-linecap="butt"/>
<text x="321.32" y="311.90" font-size="7.0" fill="#1a1a1a" font-weight="normal" font-style="normal" text-anchor="start" textLength="6.78" lengthAdjust="spacingAndGlyphs">20</text>
<line x1="331.70" y1="328.95" x2="334.70" y2="328.95" stroke="#1a1a1a" stroke-width="1.0" stroke-linecap="butt"/>
<text x="321.32" y="331.45" font-size="7.0" fill="#1a1a1a" font-weight="normal" font-style="normal" text-anchor="start" textLength="6.78" lengthAdjust="spacingAndGlyphs">10</text>
<line x1="331.70" y1="348.50" x2="334.70" y2="348.50" stroke="#1a1a1a" stroke-width="1.0" stroke-linecap="butt"/>
<text x="324.71" y="351.00" font-size="7.0" fill="#1a1a1a" font-weight="normal" font-style="normal" text-anchor="start" textLength="3.39" lengthAdjust="spacingAndGlyphs">0</text>
<line x1="348.10" y1="295.40" x2="367.70" y2="295.40" stroke="#333" stroke-width="1.0" stroke-linecap="butt"/>
<text x="357.90" y="295.40" font-size="5.8" fill="#3a3a3a" font-weight="normal" font-style="normal" text-anchor="middle" stroke="none">*</text>
<text x="343.20" y="282.30" font-size="8.2" fill="#1a1a1a" font-weight="normal" font-style="normal" text-anchor="start" textLength="30.40" lengthAdjust="spacingAndGlyphs">3 weeks</text>
<text transform="translate(306.40,317.00) rotate(-90)" x="-19.50" y="0" font-size="7.6" fill="#1a1a1a" stroke-width="0.04" textLength="39.00" lengthAdjust="spacingAndGlyphs">GPA<tspan dy="-2.8" font-size="6.2">+</tspan><tspan dy="2.8"> cells in</tspan></text>
<text transform="translate(316.40,318.20) rotate(-90)" x="-30.30" y="0" font-size="7.6" fill="#1a1a1a" stroke-width="0.04" textLength="60.60" lengthAdjust="spacingAndGlyphs">GFP<tspan dy="-2.8" font-size="6.2">+</tspan><tspan dy="2.8">CD45</tspan><tspan dy="-2.8" font-size="6.2">-</tspan><tspan dy="2.8"> graft (%)</tspan></text>
<text transform="translate(350.30,356.00) rotate(-45)" x="-15.50" y="0" font-size="6.8" fill="#1a1a1a" font-style="normal" textLength="15.50" lengthAdjust="spacingAndGlyphs">shCtrl</text>
<text transform="translate(369.70,356.00) rotate(-45)" x="-25.50" y="0" font-size="6.6" fill="#1a1a1a" font-style="normal" textLength="25.50" lengthAdjust="spacingAndGlyphs">shGPS2-1</text>
<line x1="459.70" y1="292.80" x2="459.70" y2="301.30" stroke="#111" stroke-width="1.0" stroke-linecap="butt"/>
<line x1="456.20" y1="293.00" x2="463.20" y2="293.00" stroke="#111" stroke-width="1.1" stroke-linecap="butt"/>
<rect x="452.80" y="300.80" width="13.80" height="47.70" fill="#A00028"/>
<line x1="479.30" y1="324.40" x2="479.30" y2="330.80" stroke="#111" stroke-width="1.0" stroke-linecap="butt"/>
<line x1="475.80" y1="324.60" x2="482.80" y2="324.60" stroke="#111" stroke-width="1.1" stroke-linecap="butt"/>
<rect x="472.50" y="330.30" width="13.60" height="18.20" fill="#A00028"/>
<line x1="444.40" y1="348.50" x2="492.90" y2="348.50" stroke="#1a1a1a" stroke-width="1" stroke-linecap="butt"/>
<line x1="444.90" y1="287.50" x2="444.90" y2="349.00" stroke="#1a1a1a" stroke-width="1.1" stroke-linecap="butt"/>
<line x1="441.90" y1="289.90" x2="444.90" y2="289.90" stroke="#1a1a1a" stroke-width="1.0" stroke-linecap="butt"/>
<text x="431.52" y="292.40" font-size="7.0" fill="#1a1a1a" font-weight="normal" font-style="normal" text-anchor="start" textLength="6.78" lengthAdjust="spacingAndGlyphs">25</text>
<line x1="441.90" y1="301.62" x2="444.90" y2="301.62" stroke="#1a1a1a" stroke-width="1.0" stroke-linecap="butt"/>
<text x="431.52" y="304.12" font-size="7.0" fill="#1a1a1a" font-weight="normal" font-style="normal" text-anchor="start" textLength="6.78" lengthAdjust="spacingAndGlyphs">20</text>
<line x1="441.90" y1="313.34" x2="444.90" y2="313.34" stroke="#1a1a1a" stroke-width="1.0" stroke-linecap="butt"/>
<text x="431.52" y="315.84" font-size="7.0" fill="#1a1a1a" font-weight="normal" font-style="normal" text-anchor="start" textLength="6.78" lengthAdjust="spacingAndGlyphs">15</text>
<line x1="441.90" y1="325.06" x2="444.90" y2="325.06" stroke="#1a1a1a" stroke-width="1.0" stroke-linecap="butt"/>
<text x="431.52" y="327.56" font-size="7.0" fill="#1a1a1a" font-weight="normal" font-style="normal" text-anchor="start" textLength="6.78" lengthAdjust="spacingAndGlyphs">10</text>
<line x1="441.90" y1="336.78" x2="444.90" y2="336.78" stroke="#1a1a1a" stroke-width="1.0" stroke-linecap="butt"/>
<text x="434.91" y="339.28" font-size="7.0" fill="#1a1a1a" font-weight="normal" font-style="normal" text-anchor="start" textLength="3.39" lengthAdjust="spacingAndGlyphs">5</text>
<line x1="441.90" y1="348.50" x2="444.90" y2="348.50" stroke="#1a1a1a" stroke-width="1.0" stroke-linecap="butt"/>
<text x="434.91" y="351.00" font-size="7.0" fill="#1a1a1a" font-weight="normal" font-style="normal" text-anchor="start" textLength="3.39" lengthAdjust="spacingAndGlyphs">0</text>
<line x1="460.00" y1="289.90" x2="478.80" y2="289.90" stroke="#333" stroke-width="1.0" stroke-linecap="butt"/>
<text x="469.40" y="289.90" font-size="5.8" fill="#3a3a3a" font-weight="normal" font-style="normal" text-anchor="middle" stroke="none">*</text>
<text x="452.10" y="282.70" font-size="8.2" fill="#1a1a1a" font-weight="normal" font-style="normal" text-anchor="start" textLength="35.10" lengthAdjust="spacingAndGlyphs">20 weeks</text>
<text transform="translate(417.40,317.00) rotate(-90)" x="-19.50" y="0" font-size="7.6" fill="#1a1a1a" stroke-width="0.04" textLength="39.00" lengthAdjust="spacingAndGlyphs">GPA<tspan dy="-2.8" font-size="6.2">+</tspan><tspan dy="2.8"> cells in</tspan></text>
<text transform="translate(427.40,318.20) rotate(-90)" x="-30.30" y="0" font-size="7.6" fill="#1a1a1a" stroke-width="0.04" textLength="60.60" lengthAdjust="spacingAndGlyphs">GFP<tspan dy="-2.8" font-size="6.2">+</tspan><tspan dy="2.8">CD45</tspan><tspan dy="-2.8" font-size="6.2">-</tspan><tspan dy="2.8"> graft (%)</tspan></text>
<text transform="translate(462.10,356.00) rotate(-45)" x="-15.50" y="0" font-size="6.8" fill="#1a1a1a" font-style="normal" textLength="15.50" lengthAdjust="spacingAndGlyphs">shCtrl</text>
<text transform="translate(481.00,356.00) rotate(-45)" x="-25.50" y="0" font-size="6.6" fill="#1a1a1a" font-style="normal" textLength="25.50" lengthAdjust="spacingAndGlyphs">shGPS2-1</text>
</g>
<rect x="0" y="0" width="520" height="1.1" fill="#000"/><rect x="0" y="0" width="1.1" height="390" fill="#000"/><rect x="519.1" y="0" width="0.9" height="390" fill="#000"/><rect x="0" y="389.25" width="520" height="0.75" fill="#000"/>
</svg></body></html>
